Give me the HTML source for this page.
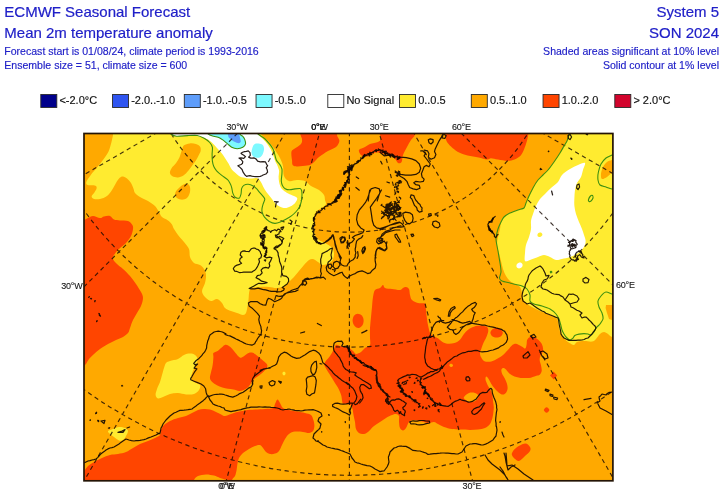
<!DOCTYPE html>
<html lang="en"><head><meta charset="utf-8"><title>ECMWF Seasonal Forecast</title>
<style>html,body{margin:0;padding:0;background:#fff}body{width:725px;height:495px;overflow:hidden}svg{display:block;position:absolute;left:0;top:0}text{font-family:"Liberation Sans",Arial,Helvetica,sans-serif}.t1{font-size:15px;fill:#2020c8;stroke:#2020c8;stroke-width:0.2px}.t2{font-size:10.56px;fill:#2020c8;stroke:#2020c8;stroke-width:0.15px}.lg{font-size:11px;fill:#111;stroke:#111;stroke-width:0.15px}.ax{font-size:9px;fill:#1a1a1a;stroke:#1a1a1a;stroke-width:0.12px;letter-spacing:-0.2px}.grid{fill:none;stroke:#140800;stroke-opacity:.8;stroke-width:1.15;stroke-dasharray:4.3 3.6}.coast{fill:none;stroke:#100500;stroke-opacity:.9;stroke-width:1.2;stroke-linejoin:round;stroke-linecap:round}.sig{fill:none;stroke:#3f9010;stroke-width:1.1;stroke-linejoin:round}</style></head><body>
<svg width="725" height="495" viewBox="0 0 725 495">
<rect width="725" height="495" fill="#fff"/>
<text class="t1" x="4.3" y="16.8">ECMWF Seasonal Forecast</text>
<text class="t1" x="4.3" y="38">Mean 2m temperature anomaly</text>
<text class="t2" x="4.3" y="55">Forecast start is 01/08/24, climate period is 1993-2016</text>
<text class="t2" x="4.3" y="69">Ensemble size = 51, climate size = 600</text>
<text class="t1" x="719" y="16.7" text-anchor="end">System 5</text>
<text class="t1" x="719" y="37.9" text-anchor="end">SON 2024</text>
<text class="t2" x="719" y="55" text-anchor="end">Shaded areas significant at 10% level</text>
<text class="t2" x="719" y="69" text-anchor="end">Solid contour at 1% level</text>
<rect x="40.80" y="94.5" width="16" height="13" fill="#00008b" stroke="#2a2a2a" stroke-width="0.9"/>
<text class="lg" x="59.40" y="104.2">&lt;-2.0°C</text>
<rect x="112.55" y="94.5" width="16" height="13" fill="#2f55f0" stroke="#2a2a2a" stroke-width="0.9"/>
<text class="lg" x="131.15" y="104.2">-2.0..-1.0</text>
<rect x="184.30" y="94.5" width="16" height="13" fill="#5e9dfa" stroke="#2a2a2a" stroke-width="0.9"/>
<text class="lg" x="202.90" y="104.2">-1.0..-0.5</text>
<rect x="256.05" y="94.5" width="16" height="13" fill="#7df9ff" stroke="#2a2a2a" stroke-width="0.9"/>
<text class="lg" x="274.65" y="104.2">-0.5..0</text>
<rect x="327.80" y="94.5" width="16" height="13" fill="#ffffff" stroke="#2a2a2a" stroke-width="0.9"/>
<text class="lg" x="346.40" y="104.2">No Signal</text>
<rect x="399.55" y="94.5" width="16" height="13" fill="#ffeb30" stroke="#2a2a2a" stroke-width="0.9"/>
<text class="lg" x="418.15" y="104.2">0..0.5</text>
<rect x="471.30" y="94.5" width="16" height="13" fill="#ffa900" stroke="#2a2a2a" stroke-width="0.9"/>
<text class="lg" x="489.90" y="104.2">0.5..1.0</text>
<rect x="543.05" y="94.5" width="16" height="13" fill="#ff4500" stroke="#2a2a2a" stroke-width="0.9"/>
<text class="lg" x="561.65" y="104.2">1.0..2.0</text>
<rect x="614.80" y="94.5" width="16" height="13" fill="#d2042d" stroke="#2a2a2a" stroke-width="0.9"/>
<text class="lg" x="633.40" y="104.2">&gt; 2.0°C</text>
<defs><clipPath id="mc"><rect x="84" y="133.5" width="528.9" height="347.3"/></clipPath></defs>
<g clip-path="url(#mc)">
<rect x="84" y="133.5" width="528.9" height="347.3" fill="#ffa900"/>
<path d="M113.0,125.0 C137.7,123.5 236.3,123.5 261.0,125.0 C285.7,126.5 259.7,131.2 261.0,134.0 C262.3,136.8 266.7,139.3 269.0,142.0 C271.3,144.7 273.2,147.3 275.0,150.0 C276.8,152.7 278.7,155.3 280.0,158.0 C281.3,160.7 282.3,163.0 283.0,166.0 C283.7,169.0 283.0,173.5 284.0,176.0 C285.0,178.5 286.8,180.3 289.0,181.0 C291.2,181.7 294.3,180.0 297.0,180.0 C299.7,180.0 302.7,180.0 305.0,181.0 C307.3,182.0 308.7,184.5 311.0,186.0 C313.3,187.5 316.8,188.5 319.0,190.0 C321.2,191.5 323.0,193.3 324.0,195.0 C325.0,196.7 324.7,198.5 325.0,200.0 C325.3,201.5 326.3,202.8 326.0,204.0 C325.7,205.2 324.5,205.8 323.0,207.0 C321.5,208.2 318.3,209.8 317.0,211.0 C315.7,212.2 315.5,212.5 315.0,214.0 C314.5,215.5 314.2,217.5 314.0,220.0 C313.8,222.5 313.8,226.5 314.0,229.0 C314.2,231.5 314.2,233.2 315.0,235.0 C315.8,236.8 317.3,238.7 319.0,240.0 C320.7,241.3 323.2,242.0 325.0,243.0 C326.8,244.0 328.7,245.0 330.0,246.0 C331.3,247.0 332.3,247.5 333.0,249.0 C333.7,250.5 334.2,253.0 334.0,255.0 C333.8,257.0 333.2,259.5 332.0,261.0 C330.8,262.5 328.7,263.3 327.0,264.0 C325.3,264.7 323.5,265.3 322.0,265.0 C320.5,264.7 319.5,263.0 318.0,262.0 C316.5,261.0 314.5,259.3 313.0,259.0 C311.5,258.7 310.5,259.0 309.0,260.0 C307.5,261.0 305.7,263.2 304.0,265.0 C302.3,266.8 300.7,269.0 299.0,271.0 C297.3,273.0 295.7,275.2 294.0,277.0 C292.3,278.8 290.5,280.5 289.0,282.0 C287.5,283.5 287.0,285.0 285.0,286.0 C283.0,287.0 279.7,287.8 277.0,288.0 C274.3,288.2 272.0,287.2 269.0,287.0 C266.0,286.8 261.8,286.8 259.0,287.0 C256.2,287.2 253.6,287.3 252.0,288.0 C250.4,288.7 250.0,289.2 249.4,291.0 C248.8,292.8 248.9,296.3 248.6,299.0 C248.3,301.7 247.8,304.7 247.4,307.0 C247.0,309.3 246.7,311.7 246.0,313.0 C245.3,314.3 244.5,315.0 243.0,315.0 C241.5,315.0 239.0,313.7 237.0,313.0 C235.0,312.3 233.0,311.8 231.0,311.0 C229.0,310.2 226.5,309.3 225.0,308.0 C223.5,306.7 223.3,304.5 222.0,303.0 C220.7,301.5 218.8,299.3 217.0,299.0 C215.2,298.7 213.0,301.3 211.0,301.0 C209.0,300.7 206.5,298.7 205.0,297.0 C203.5,295.3 202.0,293.3 202.0,291.0 C202.0,288.7 204.3,285.7 205.0,283.0 C205.7,280.3 206.2,277.3 206.0,275.0 C205.8,272.7 205.0,270.7 204.0,269.0 C203.0,267.3 201.7,266.0 200.0,265.0 C198.3,264.0 195.7,264.3 194.0,263.0 C192.3,261.7 190.8,259.3 190.0,257.0 C189.2,254.7 190.0,251.5 189.0,249.0 C188.0,246.5 185.8,244.3 184.0,242.0 C182.2,239.7 179.7,237.2 178.0,235.0 C176.3,232.8 175.1,230.8 174.0,229.0 C172.9,227.2 172.6,225.4 171.6,224.0 C170.6,222.6 169.6,221.6 168.0,220.4 C166.4,219.2 163.5,218.4 162.0,217.0 C160.5,215.6 160.2,213.8 159.0,212.0 C157.8,210.2 156.8,207.8 155.0,206.0 C153.2,204.2 150.5,202.5 148.0,201.0 C145.5,199.5 142.2,198.3 140.0,197.0 C137.8,195.7 136.1,194.3 135.0,193.0 C133.9,191.7 134.3,190.7 133.6,189.0 C132.9,187.3 132.1,184.8 131.0,183.0 C129.9,181.2 128.3,179.5 127.0,178.4 C125.7,177.3 124.2,176.5 123.0,176.4 C121.8,176.3 121.2,176.5 120.0,177.6 C118.8,178.7 117.3,180.9 116.0,183.0 C114.7,185.1 113.5,187.8 112.0,190.0 C110.5,192.2 109.0,194.5 107.0,196.0 C105.0,197.5 102.2,198.5 100.0,199.0 C97.8,199.5 95.4,199.4 94.0,199.0 C92.6,198.6 91.5,197.5 91.6,196.4 C91.7,195.3 93.6,193.6 94.4,192.4 C95.2,191.2 96.1,190.0 96.4,189.0 C96.7,188.0 96.8,187.2 96.4,186.6 C96.0,186.0 95.0,185.5 93.8,185.3 C92.6,185.1 90.7,185.4 89.5,185.3 C88.3,185.2 87.1,185.2 86.6,184.6 C86.1,184.0 86.0,182.9 86.4,181.7 C86.8,180.5 88.0,179.1 89.0,177.6 C90.0,176.1 91.1,174.4 92.4,172.8 C93.7,171.2 95.2,169.5 96.6,167.9 C98.0,166.3 99.3,164.8 100.7,163.1 C102.1,161.4 103.5,159.4 104.8,157.6 C106.1,155.8 107.3,154.2 108.3,152.1 C109.3,150.0 110.0,147.3 110.6,145.2 C111.2,143.1 111.6,141.5 112.0,139.7 C112.4,137.8 112.9,136.5 113.1,134.1 C113.3,131.7 88.3,126.5 113.0,125.0Z" fill="#ffeb30"/>
<path d="M184.1,145.2 C185.2,144.5 187.7,143.6 189.7,143.4 C191.7,143.2 194.2,143.4 195.9,143.9 C197.6,144.4 199.2,145.4 200.0,146.6 C200.8,147.8 200.9,149.3 200.7,150.8 C200.5,152.3 199.4,154.0 198.6,155.6 C197.8,157.2 196.9,158.8 195.9,160.4 C194.9,162.0 193.7,163.5 192.4,165.2 C191.1,166.9 189.8,169.1 188.3,170.8 C186.8,172.5 185.1,174.5 183.4,175.6 C181.7,176.7 179.7,177.3 177.9,177.4 C176.1,177.5 173.7,177.1 172.4,176.3 C171.1,175.5 170.0,174.2 169.9,172.8 C169.8,171.4 170.7,169.6 171.7,168.0 C172.7,166.4 174.6,164.9 175.9,163.2 C177.2,161.5 178.4,159.7 179.3,157.7 C180.2,155.7 180.8,153.1 181.4,151.4 C182.0,149.7 182.4,148.3 182.8,147.3 C183.2,146.3 182.9,145.8 184.1,145.2Z" fill="#ffa900"/>
<path d="M180.0,187.0 C181.7,185.6 184.4,183.8 186.0,183.6 C187.6,183.4 188.9,184.6 189.6,186.0 C190.3,187.4 190.4,190.0 190.0,192.0 C189.6,194.0 188.5,196.7 187.0,198.0 C185.5,199.3 182.8,199.8 181.0,199.6 C179.2,199.4 176.9,198.3 176.0,197.0 C175.1,195.7 174.9,193.7 175.6,192.0 C176.3,190.3 178.3,188.4 180.0,187.0Z" fill="#ffa900"/>
<path d="M165.0,125.0 C150.8,126.5 169.1,132.1 171.0,134.0 C172.9,135.9 173.8,136.0 176.6,136.3 C179.4,136.6 183.9,135.6 187.6,135.6 C191.3,135.6 195.6,135.9 198.6,136.3 C201.6,136.8 203.4,137.4 205.5,138.3 C207.6,139.2 209.4,140.5 211.0,141.8 C212.6,143.1 213.6,144.2 215.2,145.9 C216.8,147.6 219.1,150.1 220.7,152.1 C222.3,154.1 223.5,155.8 224.8,157.7 C226.1,159.6 227.4,161.6 228.5,163.5 C229.6,165.4 230.5,167.6 231.5,169.0 C232.5,170.4 233.0,170.8 234.4,172.1 C235.8,173.4 237.9,175.6 239.9,176.6 C241.9,177.6 244.6,177.9 246.6,178.2 C248.6,178.5 250.2,178.4 252.0,178.4 C253.8,178.4 256.1,177.7 257.6,178.3 C259.1,178.9 260.0,180.7 260.9,182.1 C261.8,183.5 262.2,184.8 263.1,186.5 C264.0,188.2 265.1,190.2 266.4,192.0 C267.7,193.8 269.5,195.8 270.8,197.5 C272.1,199.2 273.0,200.6 274.1,201.9 C275.2,203.2 276.1,204.3 277.4,205.2 C278.7,206.1 280.4,206.9 281.9,207.4 C283.4,207.9 284.8,208.2 286.3,208.0 C287.8,207.8 289.2,207.1 290.7,206.3 C292.2,205.5 294.0,204.3 295.1,203.0 C296.2,201.7 297.3,199.7 297.3,198.6 C297.3,197.5 296.4,197.1 295.1,196.4 C293.8,195.7 291.4,195.1 289.6,194.2 C287.8,193.3 285.6,192.0 284.1,190.9 C282.6,189.8 281.6,189.1 280.8,187.6 C280.0,186.1 279.5,183.9 279.1,182.1 C278.7,180.3 278.6,178.4 278.6,176.6 C278.6,174.8 279.3,172.8 279.1,171.0 C278.9,169.2 278.0,167.2 277.4,165.5 C276.8,163.8 276.1,163.3 275.2,161.1 C274.3,158.8 273.2,154.7 272.0,152.0 C270.8,149.3 269.5,147.2 268.0,145.0 C266.5,142.8 264.7,140.8 263.0,139.0 C261.3,137.2 259.2,136.3 258.0,134.0 C256.8,131.7 271.5,126.5 256.0,125.0 C240.5,123.5 179.2,123.5 165.0,125.0Z" fill="#ffffff"/>
<path d="M205.0,125.0 C199.7,126.5 206.8,132.3 208.3,134.2 C209.8,136.1 212.0,135.7 213.8,136.3 C215.6,136.9 217.7,137.0 219.3,137.7 C220.9,138.4 222.0,139.4 223.4,140.4 C224.8,141.4 226.2,142.8 227.6,143.9 C229.0,145.1 230.1,146.5 231.7,147.3 C233.3,148.1 235.3,148.7 237.2,148.7 C239.0,148.7 241.4,148.1 242.8,147.3 C244.2,146.5 245.2,145.2 245.5,143.9 C245.8,142.6 245.2,141.0 244.8,139.7 C244.4,138.4 243.6,137.2 242.8,136.3 C242.0,135.4 240.5,136.1 240.0,134.2 C239.5,132.3 245.8,126.5 240.0,125.0 C234.2,123.5 210.3,123.5 205.0,125.0Z" fill="#7df9ff"/>
<path d="M228.3,130.0 C229.8,128.9 235.2,128.7 237.2,130.0 C239.1,131.3 239.4,135.7 240.0,137.7 C240.6,139.7 240.9,140.9 240.7,141.8 C240.5,142.7 239.6,143.2 238.6,143.2 C237.6,143.2 235.9,142.5 234.5,141.8 C233.1,141.1 231.3,139.9 230.3,139.0 C229.3,138.1 228.6,137.8 228.3,136.3 C228.0,134.8 226.8,131.1 228.3,130.0Z" fill="#5e9dfa"/>
<path d="M255.2,143.8 C256.8,143.2 260.3,143.6 261.8,144.3 C263.3,145.0 263.8,146.6 264.0,148.2 C264.2,149.8 263.6,152.1 262.9,153.7 C262.2,155.3 261.1,157.0 259.6,157.6 C258.1,158.2 255.4,157.7 254.1,157.0 C252.8,156.3 251.9,154.8 251.6,153.2 C251.3,151.6 251.8,149.3 252.4,147.7 C253.0,146.1 253.6,144.4 255.2,143.8Z" fill="#7df9ff"/>
<path d="M170.0,361.0 C172.0,360.3 175.7,360.0 178.0,359.0 C180.3,358.0 182.0,355.9 184.0,355.0 C186.0,354.1 188.2,353.6 190.0,353.6 C191.8,353.6 193.7,354.1 195.0,355.0 C196.3,355.9 197.4,357.3 197.6,359.0 C197.8,360.7 196.8,363.0 196.0,365.0 C195.2,367.0 193.8,368.8 193.0,371.0 C192.2,373.2 190.8,376.2 191.0,378.0 C191.2,379.8 192.5,380.8 194.0,382.0 C195.5,383.2 199.2,383.7 200.0,385.0 C200.8,386.3 200.0,388.5 199.0,390.0 C198.0,391.5 196.2,393.3 194.0,394.0 C191.8,394.7 188.7,394.6 186.0,394.4 C183.3,394.2 180.7,393.1 178.0,393.0 C175.3,392.9 172.5,393.3 170.0,394.0 C167.5,394.7 165.0,396.3 163.0,397.0 C161.0,397.7 159.2,398.7 158.0,398.4 C156.8,398.1 155.8,396.6 155.6,395.0 C155.4,393.4 156.3,391.2 157.0,389.0 C157.7,386.8 159.2,384.3 160.0,382.0 C160.8,379.7 161.3,377.3 162.0,375.0 C162.7,372.7 163.3,370.0 164.0,368.0 C164.7,366.0 165.0,364.2 166.0,363.0 C167.0,361.8 168.0,361.7 170.0,361.0Z" fill="#ffeb30"/>
<path d="M108.0,431.0 C108.5,430.2 111.2,429.7 113.0,429.0 C114.8,428.3 117.0,427.2 119.0,427.0 C121.0,426.8 123.5,427.3 125.0,428.0 C126.5,428.7 127.8,429.7 128.0,431.0 C128.2,432.3 126.8,434.5 126.0,436.0 C125.2,437.5 124.2,439.3 123.0,440.0 C121.8,440.7 120.5,440.9 119.0,440.4 C117.5,439.9 115.5,438.1 114.0,437.0 C112.5,435.9 111.0,435.0 110.0,434.0 C109.0,433.0 107.5,431.8 108.0,431.0Z" fill="#ffeb30"/>
<path d="M283.0,372.0 C283.4,371.7 284.6,371.7 285.0,372.0 C285.4,372.3 285.7,373.4 285.5,374.0 C285.3,374.6 284.5,375.5 284.0,375.5 C283.5,375.5 282.7,374.6 282.5,374.0 C282.3,373.4 282.6,372.3 283.0,372.0Z" fill="#ffeb30"/>
<path d="M569.0,125.0 C560.2,126.5 569.3,131.3 569.0,134.0 C568.7,136.7 567.8,139.0 567.0,141.0 C566.2,143.0 565.2,144.0 564.0,146.0 C562.8,148.0 561.7,150.3 560.0,153.0 C558.3,155.7 556.0,159.2 554.0,162.0 C552.0,164.8 549.8,167.8 548.0,170.0 C546.2,172.2 544.7,173.3 543.0,175.0 C541.3,176.7 539.7,177.8 538.0,180.0 C536.3,182.2 534.5,185.3 533.0,188.0 C531.5,190.7 530.2,193.5 529.0,196.0 C527.8,198.5 526.8,201.0 526.0,203.0 C525.2,205.0 525.3,206.8 524.0,208.0 C522.7,209.2 520.3,209.2 518.0,210.0 C515.7,210.8 512.3,211.8 510.0,213.0 C507.7,214.2 505.5,215.5 504.0,217.0 C502.5,218.5 501.7,220.0 501.0,222.0 C500.3,224.0 500.5,226.5 500.0,229.0 C499.5,231.5 498.5,234.3 498.0,237.0 C497.5,239.7 496.8,242.3 497.0,245.0 C497.2,247.7 498.3,250.3 499.0,253.0 C499.7,255.7 500.3,258.3 501.0,261.0 C501.7,263.7 502.2,266.5 503.0,269.0 C503.8,271.5 504.8,274.0 506.0,276.0 C507.2,278.0 508.5,279.7 510.0,281.0 C511.5,282.3 513.3,283.0 515.0,284.0 C516.7,285.0 518.8,285.5 520.0,287.0 C521.2,288.5 521.5,291.0 522.0,293.0 C522.5,295.0 522.3,297.3 523.0,299.0 C523.7,300.7 524.5,301.7 526.0,303.0 C527.5,304.3 529.7,305.7 532.0,307.0 C534.3,308.3 537.3,309.8 540.0,311.0 C542.7,312.2 545.7,313.0 548.0,314.0 C550.3,315.0 552.4,316.0 554.0,317.0 C555.6,318.0 556.9,318.6 557.6,320.0 C558.4,321.4 558.1,323.4 558.5,325.2 C558.9,327.0 559.1,328.9 559.7,330.7 C560.4,332.5 561.4,334.6 562.4,336.2 C563.4,337.8 564.6,339.1 565.9,340.3 C567.2,341.5 568.6,342.5 570.0,343.3 C571.4,344.1 572.8,345.2 574.0,345.0 C575.2,344.8 575.3,342.7 577.0,342.0 C578.7,341.3 581.5,341.1 584.0,341.0 C586.5,340.9 590.0,341.9 592.0,341.6 C594.0,341.3 594.7,340.3 596.0,339.0 C597.3,337.7 598.7,335.2 600.0,334.0 C601.3,332.8 602.7,332.0 604.0,332.0 C605.3,332.0 606.7,333.2 608.0,334.0 C609.3,334.8 609.7,336.0 612.0,337.0 C614.3,338.0 620.3,375.3 622.0,340.0 C623.7,304.7 630.8,160.8 622.0,125.0 C613.2,89.2 577.8,123.5 569.0,125.0Z" fill="#ffeb30"/>
<path d="M585.0,163.0 C585.8,163.8 583.7,167.7 583.0,170.0 C582.3,172.3 582.0,174.8 581.0,177.0 C580.0,179.2 578.0,180.8 577.0,183.0 C576.0,185.2 575.4,187.5 575.0,190.0 C574.6,192.5 574.5,195.3 574.4,198.0 C574.3,200.7 574.1,203.3 574.4,206.0 C574.7,208.7 575.2,211.3 576.0,214.0 C576.8,216.7 578.0,219.5 579.0,222.0 C580.0,224.5 581.2,226.8 582.0,229.0 C582.8,231.2 583.4,233.0 584.0,235.0 C584.6,237.0 585.6,239.0 585.6,241.0 C585.6,243.0 585.3,245.0 584.0,247.0 C582.7,249.0 580.3,251.3 578.0,253.0 C575.7,254.7 572.7,256.0 570.0,257.0 C567.3,258.0 564.3,258.5 562.0,259.0 C559.7,259.5 558.0,260.3 556.0,260.0 C554.0,259.7 552.0,257.8 550.0,257.0 C548.0,256.2 546.0,255.0 544.0,255.0 C542.0,255.0 540.3,256.2 538.0,257.0 C535.7,257.8 532.2,259.3 530.0,260.0 C527.8,260.7 525.8,262.2 525.0,261.0 C524.2,259.8 524.8,255.7 525.0,253.0 C525.2,250.3 525.3,247.7 526.0,245.0 C526.7,242.3 528.2,239.7 529.0,237.0 C529.8,234.3 530.7,231.7 531.0,229.0 C531.3,226.3 530.7,223.5 531.0,221.0 C531.3,218.5 532.2,216.5 533.0,214.0 C533.8,211.5 534.8,208.5 536.0,206.0 C537.2,203.5 538.5,201.0 540.0,199.0 C541.5,197.0 543.2,195.8 545.0,194.0 C546.8,192.2 548.8,190.0 551.0,188.0 C553.2,186.0 556.2,184.2 558.0,182.0 C559.8,179.8 560.0,177.2 562.0,175.0 C564.0,172.8 567.3,170.7 570.0,169.0 C572.7,167.3 575.5,166.0 578.0,165.0 C580.5,164.0 584.2,162.2 585.0,163.0Z" fill="#ffffff"/>
<path d="M517.0,264.0 C517.6,263.3 519.1,262.6 520.0,262.6 C520.9,262.6 522.1,263.3 522.4,264.0 C522.7,264.7 522.6,266.3 522.0,267.0 C521.4,267.7 519.9,268.4 519.0,268.4 C518.1,268.4 516.9,267.7 516.6,267.0 C516.3,266.3 516.4,264.7 517.0,264.0Z" fill="#ffffff"/>
<path d="M538.0,233.4 C538.6,232.8 540.3,232.3 541.0,232.6 C541.7,232.9 542.6,234.3 542.4,235.0 C542.2,235.7 540.8,236.8 540.0,237.0 C539.2,237.2 537.9,236.6 537.6,236.0 C537.3,235.4 537.4,234.0 538.0,233.4Z" fill="#ffeb30"/>
<path d="M620.0,158.0 C618.7,156.3 614.2,159.3 612.0,160.0 C609.8,160.7 608.5,160.8 607.0,162.0 C605.5,163.2 604.0,165.0 603.0,167.0 C602.0,169.0 601.2,172.0 601.0,174.0 C600.8,176.0 601.0,178.5 602.0,179.0 C603.0,179.5 605.3,178.0 607.0,177.0 C608.7,176.0 609.8,174.2 612.0,173.0 C614.2,171.8 618.7,172.5 620.0,170.0 C621.3,167.5 621.3,159.7 620.0,158.0Z" fill="#ffa900"/>
<path d="M606.0,305.0 L620.0,305.0 L620.0,320.0 L612.0,320.0 L609.0,319.0 L607.0,313.0 L605.6,308.0Z" fill="#ffa900"/>
<path d="M76.0,221.0 C77.3,195.7 82.0,220.5 84.0,220.0 C86.0,219.5 86.5,218.7 88.0,218.0 C89.5,217.3 91.0,216.0 93.0,216.0 C95.0,216.0 98.2,217.9 100.0,218.0 C101.8,218.1 102.3,216.7 104.0,216.4 C105.7,216.1 108.3,215.5 110.0,216.0 C111.7,216.5 112.3,218.9 114.0,219.6 C115.7,220.3 117.7,220.2 120.0,220.4 C122.3,220.6 125.9,220.2 128.0,221.0 C130.1,221.8 131.6,223.7 132.4,225.0 C133.2,226.3 133.2,227.2 133.0,229.0 C132.8,230.8 132.2,233.7 131.0,236.0 C129.8,238.3 128.0,240.8 126.0,243.0 C124.0,245.2 121.0,247.0 119.0,249.0 C117.0,251.0 115.0,253.3 114.0,255.0 C113.0,256.7 112.5,257.5 113.0,259.0 C113.5,260.5 115.3,262.3 117.0,264.0 C118.7,265.7 120.8,267.0 123.0,269.0 C125.2,271.0 127.8,273.5 130.0,276.0 C132.2,278.5 134.2,281.3 136.0,284.0 C137.8,286.7 139.8,289.7 141.0,292.0 C142.2,294.3 143.0,295.7 143.0,298.0 C143.0,300.3 142.0,303.5 141.0,306.0 C140.0,308.5 138.3,310.7 137.0,313.0 C135.7,315.3 134.2,317.5 133.0,320.0 C131.8,322.5 130.8,325.8 130.0,328.0 C129.2,330.2 129.2,331.5 128.0,333.0 C126.8,334.5 125.0,335.8 123.0,337.0 C121.0,338.2 118.5,338.8 116.0,340.0 C113.5,341.2 110.7,342.5 108.0,344.0 C105.3,345.5 102.3,347.3 100.0,349.0 C97.7,350.7 95.8,352.3 94.0,354.0 C92.2,355.7 90.5,357.2 89.0,359.0 C87.5,360.8 87.2,362.8 85.0,365.0 C82.8,367.2 77.5,396.0 76.0,372.0 C74.5,348.0 74.7,246.3 76.0,221.0Z" fill="#ff4500"/>
<path d="M76.0,478.0 C77.3,474.8 82.0,473.0 84.0,471.0 C86.0,469.0 86.3,467.5 88.0,466.0 C89.7,464.5 91.7,463.3 94.0,462.0 C96.3,460.7 99.3,459.2 102.0,458.0 C104.7,456.8 107.3,455.7 110.0,455.0 C112.7,454.3 115.3,454.5 118.0,454.0 C120.7,453.5 123.5,453.0 126.0,452.0 C128.5,451.0 130.7,449.3 133.0,448.0 C135.3,446.7 137.5,445.2 140.0,444.0 C142.5,442.8 145.5,442.0 148.0,441.0 C150.5,440.0 153.0,439.0 155.0,438.0 C157.0,437.0 159.0,436.3 160.0,435.0 C161.0,433.7 160.3,431.7 161.0,430.0 C161.7,428.3 162.5,426.5 164.0,425.0 C165.5,423.5 167.7,422.2 170.0,421.0 C172.3,419.8 175.3,418.8 178.0,418.0 C180.7,417.2 183.7,416.8 186.0,416.0 C188.3,415.2 190.0,414.0 192.0,413.0 C194.0,412.0 196.0,410.7 198.0,410.0 C200.0,409.3 202.0,409.1 204.0,409.0 C206.0,408.9 208.0,409.1 210.0,409.6 C212.0,410.1 214.0,411.1 216.0,412.0 C218.0,412.9 220.5,414.3 222.0,415.0 C223.5,415.7 223.5,416.2 225.0,416.0 C226.5,415.8 229.0,414.7 231.0,414.0 C233.0,413.3 234.7,412.6 237.0,412.0 C239.3,411.4 242.0,410.8 245.0,410.4 C248.0,410.0 251.7,409.8 255.0,409.6 C258.3,409.4 262.0,409.3 265.0,409.0 C268.0,408.7 271.3,408.8 273.0,408.0 C274.7,407.2 274.3,405.4 275.0,404.0 C275.7,402.6 276.6,399.8 277.4,399.6 C278.2,399.4 279.1,401.6 280.0,403.0 C280.9,404.4 281.5,406.8 283.0,408.0 C284.5,409.2 286.7,409.4 289.0,410.0 C291.3,410.6 294.3,411.1 297.0,411.6 C299.7,412.1 302.7,412.4 305.0,413.0 C307.3,413.6 309.6,413.8 311.0,415.0 C312.4,416.2 312.8,418.2 313.4,420.0 C314.0,421.8 314.5,424.2 314.4,426.0 C314.3,427.8 313.9,429.8 313.0,431.0 C312.1,432.2 310.7,432.8 309.0,433.0 C307.3,433.2 305.3,432.2 303.0,432.0 C300.7,431.8 297.3,431.3 295.0,431.6 C292.7,431.9 290.7,432.8 289.0,434.0 C287.3,435.2 286.2,437.2 285.0,439.0 C283.8,440.8 283.0,443.0 282.0,445.0 C281.0,447.0 280.2,449.6 279.0,451.0 C277.8,452.4 276.5,453.1 275.0,453.6 C273.5,454.1 271.5,454.3 270.0,454.0 C268.5,453.7 267.2,453.0 266.0,452.0 C264.8,451.0 264.0,449.2 263.0,448.0 C262.0,446.8 261.3,445.3 260.0,445.0 C258.7,444.7 256.8,445.3 255.0,446.0 C253.2,446.7 251.0,447.8 249.0,449.0 C247.0,450.2 244.7,451.5 243.0,453.0 C241.3,454.5 239.9,456.2 239.0,458.0 C238.1,459.8 237.8,462.0 237.4,464.0 C237.0,466.0 237.0,468.0 236.6,470.0 C236.2,472.0 235.8,474.3 235.0,476.0 C234.2,477.7 232.8,477.7 232.0,480.0 C231.2,482.3 256.0,488.3 230.0,490.0 C204.0,491.7 101.7,492.0 76.0,490.0 C50.3,488.0 74.7,481.2 76.0,478.0Z" fill="#ff4500"/>
<path d="M190.0,490.0 C183.7,488.3 192.7,482.3 194.0,480.0 C195.3,477.7 196.0,476.9 198.0,476.0 C200.0,475.1 203.3,474.5 206.0,474.4 C208.7,474.3 211.7,475.0 214.0,475.6 C216.3,476.2 218.2,477.4 220.0,478.0 C221.8,478.6 223.5,479.0 225.0,479.5 C226.5,480.0 227.8,479.2 229.0,481.0 C230.2,482.8 238.5,488.5 232.0,490.0 C225.5,491.5 196.3,491.7 190.0,490.0Z" fill="#ffa900"/>
<path d="M213.4,352.9 C214.1,351.9 216.2,351.8 217.6,350.9 C219.0,350.0 220.4,348.4 221.7,347.4 C223.0,346.4 224.0,345.0 225.2,344.7 C226.3,344.4 227.4,345.1 228.6,345.8 C229.8,346.5 230.9,347.6 232.1,348.8 C233.2,350.0 234.3,351.6 235.5,352.9 C236.7,354.2 238.1,356.0 239.0,356.8 C239.9,357.6 240.1,358.0 241.0,357.8 C241.9,357.6 243.2,356.5 244.5,355.7 C245.8,354.9 247.2,353.4 248.6,352.9 C250.0,352.4 251.5,352.3 252.8,352.7 C254.1,353.1 255.0,354.1 256.2,355.0 C257.3,355.9 258.4,356.8 259.7,357.8 C261.0,358.8 262.6,360.1 263.8,361.2 C265.1,362.3 266.7,363.5 267.2,364.7 C267.7,365.9 267.2,367.0 266.6,368.1 C266.0,369.2 265.0,370.5 263.8,371.6 C262.6,372.8 261.1,374.0 259.7,375.0 C258.3,376.0 256.8,376.8 255.5,377.8 C254.2,378.8 253.0,380.1 252.1,381.2 C251.2,382.3 250.8,383.5 250.0,384.7 C249.2,385.9 248.3,387.2 247.2,388.1 C246.0,389.0 244.5,389.7 243.1,390.2 C241.7,390.7 240.6,391.0 239.0,390.9 C237.4,390.8 235.2,389.9 233.4,389.5 C231.6,389.1 229.7,389.2 227.9,388.8 C226.1,388.4 224.2,388.0 222.4,387.4 C220.6,386.8 218.5,386.1 216.9,385.3 C215.3,384.5 214.0,383.8 212.8,382.6 C211.7,381.5 210.3,379.9 210.0,378.4 C209.7,376.9 210.3,375.3 210.7,373.6 C211.0,371.9 211.7,369.9 212.1,368.1 C212.5,366.3 212.8,364.4 213.0,362.6 C213.2,360.8 213.3,358.7 213.4,357.1 C213.5,355.5 212.7,353.9 213.4,352.9Z" fill="#ff4500"/>
<path d="M300.0,126.0 C306.1,124.5 330.8,124.5 337.0,126.0 C343.2,127.5 336.6,132.5 337.0,135.0 C337.4,137.5 339.6,139.0 339.4,141.0 C339.2,143.0 337.9,145.3 336.0,147.0 C334.1,148.7 330.8,149.3 328.0,151.0 C325.2,152.7 321.5,155.0 319.0,157.0 C316.5,159.0 315.0,161.6 313.0,163.0 C311.0,164.4 310.2,165.1 307.0,165.6 C303.8,166.1 296.5,166.9 294.0,166.0 C291.5,165.1 292.4,162.3 292.0,160.0 C291.6,157.7 291.1,153.8 291.4,152.0 C291.7,150.2 292.4,150.3 294.0,149.0 C295.6,147.7 299.7,145.7 301.0,144.0 C302.3,142.3 302.1,140.5 302.0,139.0 C301.9,137.5 300.9,137.2 300.6,135.0 C300.3,132.8 293.9,127.5 300.0,126.0Z" fill="#ff4500"/>
<path d="M359.0,150.0 C359.7,148.7 363.2,148.0 365.0,147.0 C366.8,146.0 367.8,144.8 370.0,144.0 C372.2,143.2 376.2,143.0 378.0,142.0 C379.8,141.0 380.7,140.8 381.0,138.0 C381.3,135.2 374.3,127.2 380.0,125.0 C385.7,122.8 409.2,123.4 415.0,125.0 C420.8,126.6 415.7,131.9 415.0,134.4 C414.3,136.9 412.3,137.9 411.0,140.0 C409.7,142.1 408.3,144.5 407.0,147.0 C405.7,149.5 403.9,152.5 403.0,155.0 C402.1,157.5 402.4,160.7 401.6,162.0 C400.8,163.3 399.2,163.7 398.0,163.0 C396.8,162.3 395.9,159.3 394.4,158.0 C392.9,156.7 391.1,155.7 389.0,155.0 C386.9,154.3 384.2,154.0 382.0,153.6 C379.8,153.2 378.0,152.2 376.0,152.4 C374.0,152.6 371.7,154.3 370.0,155.0 C368.3,155.7 367.5,156.5 366.0,156.5 C364.5,156.5 362.2,156.1 361.0,155.0 C359.8,153.9 358.3,151.3 359.0,150.0Z" fill="#ff4500"/>
<path d="M445.5,125.0 C431.7,126.5 445.3,131.3 445.5,134.0 C445.7,136.7 445.6,138.9 446.5,141.0 C447.4,143.1 449.1,144.7 451.0,146.5 C452.9,148.3 455.2,150.5 458.0,152.0 C460.8,153.5 464.2,154.6 467.6,155.5 C471.0,156.4 475.4,156.9 478.6,157.6 C481.8,158.3 484.9,159.5 487.0,159.6 C489.1,159.7 489.2,158.3 491.0,158.3 C492.8,158.3 495.2,159.2 498.0,159.6 C500.8,160.0 504.9,161.0 507.6,161.0 C510.4,161.0 512.3,160.5 514.5,159.6 C516.7,158.7 519.1,157.2 520.7,155.5 C522.3,153.8 523.1,151.7 524.1,149.3 C525.1,146.9 526.2,143.6 526.9,141.0 C527.6,138.4 528.1,136.7 528.3,134.0 C528.5,131.3 542.1,126.5 528.3,125.0 C514.5,123.5 459.3,123.5 445.5,125.0Z" fill="#ff4500"/>
<path d="M357.8,313.8 C359.1,313.8 360.8,314.5 361.8,315.5 C362.8,316.5 363.5,318.4 363.6,320.0 C363.7,321.6 363.4,323.7 362.6,325.0 C361.8,326.3 359.9,327.8 358.6,328.0 C357.3,328.2 355.6,327.2 354.6,326.0 C353.6,324.8 352.7,322.7 352.6,321.0 C352.5,319.3 353.1,317.0 354.0,315.8 C354.9,314.6 356.5,313.9 357.8,313.8Z" fill="#ff4500"/>
<path d="M370.0,345.0 C369.2,346.7 366.5,346.8 365.0,348.0 C363.5,349.2 362.5,351.0 361.0,352.0 C359.5,353.0 357.3,354.2 356.0,354.0 C354.7,353.8 354.2,352.0 353.0,351.0 C351.8,350.0 350.3,348.7 349.0,348.0 C347.7,347.3 346.5,347.3 345.0,347.0 C343.5,346.7 341.5,346.3 340.0,346.0 C338.5,345.7 337.1,344.3 336.0,345.0 C334.9,345.7 334.5,348.2 333.5,350.0 C332.5,351.8 331.3,354.1 330.0,356.0 C328.7,357.9 326.4,360.0 325.5,361.5 C324.6,363.0 324.1,363.7 324.3,365.0 C324.5,366.3 325.8,367.9 326.6,369.4 C327.4,370.9 328.4,372.3 329.3,373.8 C330.2,375.3 331.2,376.7 332.1,378.2 C333.0,379.7 333.9,381.2 334.8,382.7 C335.7,384.2 336.8,385.6 337.6,387.1 C338.4,388.6 339.2,390.0 339.8,391.5 C340.4,393.0 341.0,394.4 341.4,395.9 C341.8,397.4 341.7,399.0 342.0,400.3 C342.3,401.6 342.2,403.0 343.1,403.6 C344.0,404.2 346.2,403.9 347.5,404.2 C348.8,404.5 350.0,404.5 350.8,405.3 C351.6,406.1 352.1,407.5 352.5,409.1 C352.9,410.7 353.1,412.9 353.5,415.0 C353.9,417.1 354.6,419.7 355.0,422.0 C355.4,424.3 355.3,427.2 356.0,429.0 C356.7,430.8 357.7,432.2 359.0,433.0 C360.3,433.8 362.5,434.2 364.0,434.0 C365.5,433.8 367.0,432.7 368.0,432.0 C369.0,431.3 369.0,431.0 370.0,430.0 C371.0,429.0 372.3,427.3 374.0,426.0 C375.7,424.7 378.0,423.3 380.0,422.0 C382.0,420.7 384.0,419.2 386.0,418.0 C388.0,416.8 390.3,415.7 392.0,415.0 C393.7,414.3 394.8,413.8 396.0,414.0 C397.2,414.2 398.5,414.7 399.0,416.0 C399.5,417.3 398.8,420.0 399.0,422.0 C399.2,424.0 399.3,426.6 400.0,428.0 C400.7,429.4 402.0,430.4 403.0,430.4 C404.0,430.4 405.0,429.4 406.0,428.0 C407.0,426.6 407.8,423.3 409.0,422.0 C410.2,420.7 411.2,420.2 413.0,420.0 C414.8,419.8 417.5,420.5 420.0,421.0 C422.5,421.5 425.7,422.8 428.0,423.0 C430.3,423.2 432.3,421.8 434.0,422.0 C435.7,422.2 436.3,423.2 438.0,424.0 C439.7,424.8 441.7,426.2 444.0,427.0 C446.3,427.8 449.3,428.6 452.0,429.0 C454.7,429.4 457.0,429.4 460.0,429.6 C463.0,429.8 467.0,430.0 470.0,430.0 C473.0,430.0 475.5,429.9 478.0,429.6 C480.5,429.3 483.0,428.9 485.0,428.0 C487.0,427.1 488.8,425.7 490.0,424.0 C491.2,422.3 491.8,420.0 492.4,418.0 C493.0,416.0 493.2,413.9 493.4,412.0 C493.6,410.1 493.9,408.7 493.8,406.9 C493.8,405.1 493.3,403.2 493.1,401.4 C492.9,399.6 492.8,397.6 492.4,395.9 C492.0,394.2 491.6,392.4 491.0,391.0 C490.4,389.6 489.7,388.9 489.0,387.6 C488.3,386.3 487.5,384.8 486.9,383.4 C486.3,382.0 485.6,380.4 485.5,379.3 C485.4,378.2 485.7,376.7 486.2,376.6 C486.7,376.5 487.5,377.5 488.3,378.6 C489.1,379.7 490.0,381.8 491.0,383.4 C492.0,385.0 493.2,386.8 494.5,388.3 C495.8,389.8 497.2,391.4 498.6,392.4 C500.0,393.4 501.5,394.5 502.8,394.5 C504.1,394.5 505.4,393.4 506.2,392.4 C507.0,391.4 507.5,389.8 507.6,388.3 C507.7,386.8 507.4,385.0 506.9,383.4 C506.4,381.8 505.6,380.2 504.8,378.6 C504.0,377.0 502.7,375.3 502.1,373.8 C501.5,372.3 501.2,370.7 501.4,369.7 C501.6,368.7 502.6,368.0 503.4,368.0 C504.2,368.0 505.1,368.7 506.2,369.7 C507.2,370.7 508.3,372.6 509.7,373.8 C511.1,375.0 512.7,375.9 514.5,376.6 C516.3,377.3 518.3,377.7 520.7,377.9 C523.1,378.1 526.5,378.2 529.0,377.9 C531.5,377.6 534.1,376.4 535.9,375.9 C537.7,375.4 538.7,375.7 539.7,374.8 C540.7,373.9 541.5,372.3 541.7,370.7 C541.9,369.1 541.3,366.9 541.0,365.2 C540.7,363.5 539.8,361.8 539.7,360.3 C539.6,358.8 539.8,357.4 540.3,356.2 C540.8,354.9 541.9,354.1 542.4,352.8 C542.9,351.5 543.2,350.1 543.1,348.6 C543.0,347.1 542.5,345.3 541.7,343.8 C540.9,342.3 539.6,340.9 538.3,339.7 C537.0,338.5 535.5,337.4 534.1,336.9 C532.7,336.4 531.1,336.4 530.0,336.9 C528.9,337.4 527.8,338.4 527.2,339.7 C526.6,341.0 526.9,343.0 526.6,344.5 C526.3,346.0 526.0,348.2 525.2,348.6 C524.4,349.0 523.2,347.4 521.7,346.6 C520.2,345.8 517.8,344.0 516.2,343.8 C514.6,343.6 513.5,344.2 512.1,345.2 C510.7,346.2 509.5,348.3 507.9,350.0 C506.3,351.7 504.5,353.9 502.4,355.5 C500.3,357.1 497.6,358.7 495.5,359.7 C493.4,360.7 491.8,361.4 490.0,361.7 C488.2,362.0 486.3,361.9 485.0,361.5 C483.7,361.1 482.9,360.2 482.1,359.0 C481.3,357.8 480.1,355.8 480.0,354.1 C479.9,352.4 480.8,350.4 481.4,348.6 C482.0,346.8 482.6,344.9 483.4,343.1 C484.2,341.3 485.4,339.7 486.2,337.6 C487.0,335.5 488.3,332.5 488.3,330.7 C488.3,328.9 487.7,327.5 486.2,326.6 C484.7,325.7 481.6,325.3 479.3,325.4 C477.0,325.5 474.5,326.3 472.4,327.2 C470.3,328.1 468.4,329.4 466.9,330.7 C465.4,332.0 464.5,333.3 463.4,334.8 C462.2,336.3 461.5,338.3 460.0,339.7 C458.5,341.1 456.6,342.4 454.5,343.1 C452.4,343.8 449.7,344.0 447.6,343.8 C445.5,343.6 443.7,342.6 442.1,341.7 C440.5,340.8 439.3,339.2 437.9,338.3 C436.5,337.4 435.1,337.0 433.8,336.2 C432.5,335.4 431.2,335.0 430.3,333.4 C429.4,331.8 428.9,329.1 428.3,326.6 C427.7,324.1 427.3,321.1 426.9,318.3 C426.5,315.5 426.2,312.1 426.0,310.0 C425.8,307.9 425.8,307.1 425.6,306.0 C425.4,304.9 426.3,303.9 425.0,303.4 C423.7,302.9 420.2,303.6 418.0,303.0 C415.8,302.4 413.3,301.3 412.0,300.0 C410.7,298.7 410.5,296.8 410.0,295.0 C409.5,293.2 409.7,290.3 409.0,289.0 C408.3,287.7 407.0,287.2 406.0,287.0 C405.0,286.8 404.0,287.5 403.0,288.0 C402.0,288.5 401.8,289.8 400.0,290.0 C398.2,290.2 394.5,289.3 392.0,289.0 C389.5,288.7 386.5,288.7 385.0,288.0 C383.5,287.3 383.8,285.0 383.0,285.0 C382.2,285.0 381.3,287.2 380.0,288.0 C378.7,288.8 376.2,288.5 375.0,290.0 C373.8,291.5 373.5,294.2 373.0,297.0 C372.5,299.8 372.3,303.7 372.0,307.0 C371.7,310.3 371.3,313.5 371.0,317.0 C370.7,320.5 370.2,324.5 370.0,328.0 C369.8,331.5 370.0,335.2 370.0,338.0 C370.0,340.8 370.8,343.3 370.0,345.0Z" fill="#ff4500"/>
<path d="M496.6,328.0 C498.1,328.0 500.0,328.6 501.0,329.4 C502.0,330.2 502.8,331.7 502.8,332.8 C502.8,333.9 502.0,335.4 501.0,336.2 C500.0,337.0 498.1,337.6 496.6,337.6 C495.1,337.6 493.2,337.0 492.2,336.2 C491.2,335.4 490.4,333.9 490.4,332.8 C490.4,331.7 491.2,330.2 492.2,329.4 C493.2,328.6 495.1,328.0 496.6,328.0Z" fill="#ff4500"/>
<path d="M464.0,397.0 C464.7,395.9 467.2,393.7 469.0,393.0 C470.8,392.3 473.4,392.5 475.0,393.0 C476.6,393.5 478.4,394.8 478.6,396.0 C478.9,397.2 477.5,399.0 476.5,400.0 C475.5,401.0 473.8,401.8 472.4,402.0 C471.0,402.2 469.6,401.8 468.3,401.4 C467.0,400.9 465.5,400.0 464.8,399.3 C464.1,398.6 463.3,398.1 464.0,397.0Z" fill="#ffa900"/>
<path d="M450.0,364.0 C450.4,363.7 451.5,363.8 452.0,364.0 C452.5,364.2 453.1,365.0 453.0,365.5 C452.9,366.0 452.1,366.9 451.5,367.0 C450.9,367.1 449.8,366.5 449.5,366.0 C449.2,365.5 449.6,364.3 450.0,364.0Z" fill="#ffa900"/>
<path d="M553.5,371.6 L557.2,375.6 L553.8,379.4 L550.0,375.4Z" fill="#ff4500"/>
<path d="M546.6,407.2 C547.5,407.2 549.4,409.1 549.4,410.0 C549.4,410.9 547.5,412.8 546.6,412.8 C545.7,412.8 543.8,410.9 543.8,410.0 C543.8,409.1 545.7,407.2 546.6,407.2Z" fill="#ff4500"/>
<path d="M512.0,453.0 C512.6,451.7 513.8,449.6 516.0,448.0 C518.2,446.4 522.7,443.8 525.0,443.6 C527.3,443.4 529.2,445.8 530.0,447.0 C530.8,448.2 530.8,449.5 530.0,451.0 C529.2,452.5 526.8,454.3 525.0,456.0 C523.2,457.7 520.7,460.5 519.0,461.0 C517.3,461.5 516.1,459.8 515.0,459.0 C513.9,458.2 512.9,457.0 512.4,456.0 C511.9,455.0 511.4,454.3 512.0,453.0Z" fill="#ff4500"/>
<path class="grid" d="M349.4,21.4 L-201.1,21.4 M349.4,21.4 L-182.3,163.9 M349.4,21.4 L-127.3,296.7 M349.4,21.4 L-39.9,410.7 M349.4,21.4 L74.1,498.1 M349.4,21.4 L206.9,553.1 M349.4,21.4 L349.4,571.9 M349.4,21.4 L491.9,553.1 M349.4,21.4 L624.7,498.1 M349.4,21.4 L738.7,410.7 M349.4,21.4 L826.1,296.7 M349.4,21.4 L881.1,163.9 M349.4,21.4 L899.9,21.4 M-104.5,21.4 A453.9,453.9 0 1 0 803.3,21.4 A453.9,453.9 0 1 0 -104.5,21.4 M23.7,21.4 A325.7,325.7 0 1 0 675.1,21.4 A325.7,325.7 0 1 0 23.7,21.4 M138.7,21.4 A210.7,210.7 0 1 0 560.1,21.4 A210.7,210.7 0 1 0 138.7,21.4 M245.9,21.4 A103.5,103.5 0 1 0 452.9,21.4 A103.5,103.5 0 1 0 245.9,21.4"/>
<path d="M241.0,153.3 L242.6,152.2 L244.5,151.6 L246.4,151.4 L248.3,150.9 L250.0,152.6 L250.3,155.3 L248.6,157.1 L250.7,158.1 L252.3,158.1 L253.8,157.8 L256.2,159.1 L257.6,161.2 L260.3,161.9 L263.1,161.6 L265.5,161.9 L266.6,164.3 L267.6,165.7 L266.2,167.8 L267.2,169.8 L267.6,172.2 L265.9,174.0 L263.1,175.0 L261.8,175.8 L260.3,176.4 L257.6,176.7 L255.5,176.6 L253.4,176.4 L251.7,176.1 L250.0,175.7 L248.3,175.9 L246.6,176.4 L244.8,174.7 L243.1,172.2 L242.1,169.5 L240.0,167.4 L237.9,165.7 L239.7,165.0 L241.1,164.5 L242.4,163.6 L242.8,161.6 L241.4,159.8 L239.0,158.1 L241.0,157.8 L243.8,158.4 L245.5,156.7 L243.8,155.3 L242.1,154.3Z" fill="#fff"/>
<path class="sig" d="M168.0,130.0 C168.3,130.5 170.0,133.3 171.0,134.0 C172.0,134.7 174.7,136.1 176.6,136.3 C178.5,136.5 185.2,135.7 187.6,135.6 C190.0,135.5 195.3,135.2 197.2,135.5 C199.1,135.8 202.6,137.5 204.1,138.3 C205.6,139.1 208.7,141.4 209.7,142.5 C210.7,143.6 212.1,145.9 212.4,147.3 C212.7,148.7 212.1,152.6 212.1,154.2 C212.1,155.8 212.2,159.7 212.4,161.1 C212.6,162.5 213.3,165.5 213.8,166.6 C214.3,167.7 215.6,169.8 216.6,170.8 C217.6,171.9 220.8,174.6 222.1,175.6 C223.4,176.6 226.7,178.8 227.6,179.7 C228.5,180.6 229.5,182.3 230.0,183.2 C230.5,184.1 231.4,186.4 231.7,187.6 C232.0,188.8 232.4,191.9 232.8,193.1 C233.2,194.3 234.7,196.9 235.5,197.5 C236.3,198.1 238.8,198.5 239.4,198.1 C240.0,197.7 240.7,195.3 241.0,194.2 C241.3,193.1 241.3,189.7 241.6,188.7 C241.9,187.7 243.0,185.9 243.8,185.4 C244.6,184.9 247.1,184.2 248.2,184.3 C249.3,184.4 252.2,185.4 253.2,185.9 C254.2,186.4 255.7,187.9 256.5,188.7 C257.3,189.5 259.0,191.7 259.8,192.6 C260.6,193.5 262.5,195.6 263.1,196.4 C263.7,197.2 264.8,198.3 264.8,199.2 C264.8,200.1 263.4,203.0 263.1,204.1 C262.8,205.2 262.1,207.6 262.0,208.6 C261.9,209.6 261.9,211.5 262.2,212.5 C262.5,213.5 263.7,216.2 264.5,217.2 C265.3,218.2 268.1,220.7 269.3,221.4 C270.5,222.1 273.5,223.3 274.8,223.4 C276.1,223.5 279.0,222.6 280.3,222.1 C281.6,221.6 284.6,220.0 285.9,219.3 C287.2,218.6 290.2,216.8 291.4,215.9 C292.6,215.0 295.3,212.5 296.2,211.5 C297.1,210.5 298.9,208.1 299.5,207.0 C300.1,205.9 300.9,203.1 301.2,201.9 C301.5,200.7 301.8,197.7 301.9,196.4 C302.0,195.1 301.9,191.8 301.7,190.9 C301.5,190.0 300.9,188.7 300.1,188.5 C299.3,188.3 296.3,188.7 295.1,188.9 C293.9,189.1 290.8,189.8 289.6,189.8 C288.4,189.8 286.0,189.2 285.2,188.7 C284.4,188.2 282.9,186.3 282.4,185.4 C281.9,184.5 281.4,182.3 281.3,181.0 C281.2,179.7 281.8,175.7 281.9,174.3 C282.0,172.9 282.2,170.0 281.9,168.8 C281.6,167.6 280.4,165.4 279.7,164.4 C279.0,163.4 277.1,161.8 276.3,160.0 C275.5,158.2 274.3,151.4 273.0,149.0 C271.7,146.6 266.8,140.8 265.0,139.0 C263.2,137.2 259.2,135.2 258.0,134.0 C256.8,132.8 255.3,129.6 255.0,129.0"/>
<path class="sig" d="M205.0,125.0 C205.4,126.1 207.3,132.9 208.3,134.2 C209.3,135.5 212.5,135.9 213.8,136.3 C215.1,136.7 218.2,137.2 219.3,137.7 C220.4,138.2 222.4,139.7 223.4,140.4 C224.4,141.1 226.6,143.1 227.6,143.9 C228.6,144.7 230.6,146.7 231.7,147.3 C232.8,147.9 235.9,148.7 237.2,148.7 C238.5,148.7 241.8,147.9 242.8,147.3 C243.8,146.7 245.3,144.8 245.5,143.9 C245.7,143.0 245.1,140.6 244.8,139.7 C244.5,138.8 243.4,136.9 242.8,136.3 C242.2,135.7 240.3,135.5 240.0,134.2 C239.7,132.9 240.0,126.1 240.0,125.0"/>
<path class="sig" d="M570.0,128.0 C569.9,128.7 569.4,132.5 569.0,134.0 C568.6,135.5 567.6,139.6 567.0,141.0 C566.4,142.4 564.8,144.6 564.0,146.0 C563.2,147.4 561.2,151.1 560.0,153.0 C558.8,154.9 555.4,160.0 554.0,162.0 C552.6,164.0 549.3,168.5 548.0,170.0 C546.7,171.5 544.2,173.8 543.0,175.0 C541.8,176.2 539.2,178.5 538.0,180.0 C536.8,181.5 534.0,186.1 533.0,188.0 C532.0,189.9 529.8,194.2 529.0,196.0 C528.2,197.8 526.6,201.6 526.0,203.0 C525.4,204.4 524.9,207.2 524.0,208.0 C523.1,208.8 519.6,209.4 518.0,210.0 C516.4,210.6 511.6,212.2 510.0,213.0 C508.4,213.8 505.1,215.9 504.0,217.0 C502.9,218.1 501.7,220.6 501.0,222.0 C500.3,223.4 498.6,227.0 498.0,229.0 C497.4,231.0 496.0,236.4 496.0,239.0 C496.0,241.6 497.5,248.2 498.0,251.0 C498.5,253.8 499.6,260.6 500.0,263.0 C500.4,265.4 501.1,270.2 501.0,272.0 C500.9,273.8 499.4,276.9 499.5,278.0 C499.6,279.1 500.8,280.4 502.0,281.0 C503.2,281.6 508.4,282.6 510.0,283.0 C511.6,283.4 514.6,284.1 516.0,284.5 C517.4,284.9 520.7,285.5 522.0,286.0 C523.3,286.5 526.1,287.9 527.0,289.0 C527.9,290.1 529.6,293.6 530.0,295.0 C530.4,296.4 529.5,299.9 530.0,301.0 C530.5,302.1 532.6,303.4 534.0,304.0 C535.4,304.6 540.1,305.4 542.0,306.0 C543.9,306.6 548.4,308.1 550.0,309.0 C551.6,309.9 555.0,312.8 556.0,314.0 C557.0,315.2 558.5,317.8 559.0,319.0 C559.5,320.2 560.1,322.7 560.5,324.0 C560.9,325.3 561.6,328.8 562.0,330.0 C562.4,331.2 563.5,333.1 564.0,334.0 C564.5,334.9 565.8,336.8 566.5,337.5 C567.2,338.2 569.3,339.9 570.0,340.0 C570.7,340.1 572.2,338.8 572.8,338.3 C573.4,337.8 574.1,336.0 574.8,335.5 C575.5,335.0 577.9,334.3 579.0,334.1 C580.1,333.9 583.0,333.6 584.0,333.6 C585.0,333.6 587.2,333.8 588.0,334.0 C588.8,334.2 590.3,335.2 591.0,335.0 C591.7,334.8 593.4,332.8 594.0,332.0 C594.6,331.2 595.3,328.9 596.0,328.0 C596.7,327.1 599.2,325.1 600.0,324.0 C600.8,322.9 602.8,320.3 603.0,319.0 C603.2,317.7 602.5,314.4 602.0,313.0 C601.5,311.6 599.5,308.4 599.0,307.0 C598.5,305.6 597.8,302.3 598.0,301.0 C598.2,299.7 600.1,297.1 601.0,296.0 C601.9,294.9 604.7,292.2 606.0,292.0 C607.3,291.8 610.4,293.5 612.0,294.0 C613.6,294.5 619.1,295.8 620.0,296.0"/>
<path class="sig" d="M620.0,152.0 C619.1,152.3 613.6,154.3 612.0,155.0 C610.4,155.7 607.3,156.9 606.0,158.0 C604.7,159.1 601.9,162.4 601.0,164.0 C600.1,165.6 598.8,170.1 598.4,172.0 C598.0,173.9 597.8,178.5 598.0,180.0 C598.2,181.5 599.1,184.2 600.0,185.0 C600.9,185.8 604.6,186.5 606.0,187.0 C607.4,187.5 610.4,188.7 612.0,189.0 C613.6,189.3 619.1,189.9 620.0,190.0"/>
<path class="sig" d="M588.5,199.5 C588.7,198.9 590.0,196.5 590.5,196.0 C591.0,195.5 592.2,195.3 592.5,195.5 C592.8,195.7 593.2,197.4 593.0,198.0 C592.8,198.6 591.5,200.6 591.0,201.0 C590.5,201.4 589.3,201.7 589.0,201.5 C588.7,201.3 588.3,200.1 588.5,199.5Z"/>
<path class="sig" d="M550.4,271.6 C550.5,271.4 551.4,271.3 551.6,271.4 C551.8,271.5 551.9,272.4 551.8,272.6 C551.7,272.8 550.8,272.9 550.6,272.8 C550.4,272.7 550.3,271.8 550.4,271.6Z"/>
<path class="coast" d="M241.0,153.3 L242.6,152.2 L244.5,151.6 L246.4,151.4 L248.3,150.9 L250.0,152.6 L250.3,155.3 L248.6,157.1 L250.7,158.1 L252.3,158.1 L253.8,157.8 L256.2,159.1 L257.6,161.2 L260.3,161.9 L263.1,161.6 L265.5,161.9 L266.6,164.3 L267.6,165.7 L266.2,167.8 L267.2,169.8 L267.6,172.2 L265.9,174.0 L263.1,175.0 L261.8,175.8 L260.3,176.4 L257.6,176.7 L255.5,176.6 L253.4,176.4 L251.7,176.1 L250.0,175.7 L248.3,175.9 L246.6,176.4 L244.8,174.7 L243.1,172.2 L242.1,169.5 L240.0,167.4 L237.9,165.7 L239.7,165.0 L241.1,164.5 L242.4,163.6 L242.8,161.6 L241.4,159.8 L239.0,158.1 L241.0,157.8 L243.8,158.4 L245.5,156.7 L243.8,155.3 L242.1,154.3Z M274.6,201.7 L278.3,201.8 L276.2,202.8 L275.5,206.9 M290.0,220.0 L292.1,221.4 L290.7,224.1 M281.0,227.6 L283.8,226.9 L282.4,229.7 L281.0,228.6 M400.0,157.8 L398.7,157.6 L397.4,157.5 L396.3,156.4 L394.8,156.7 L393.8,155.8 L392.4,155.4 L391.0,155.3 L389.5,155.3 L388.3,154.4 L386.9,153.5 L385.2,153.1 L384.1,151.6 L382.7,151.0 L381.1,150.8 L380.0,149.6 L378.8,150.5 L377.3,150.3 L375.8,150.1 L374.5,150.9 L373.3,152.1 L371.9,152.7 L370.3,152.8 L369.0,153.7 L367.5,153.8 L366.7,155.0 L365.7,155.9 L364.2,155.9 L363.4,157.1 L362.8,158.5 L361.1,158.5 L360.5,160.0 L359.3,160.6 L358.6,161.8 L357.6,162.7 L356.4,163.4 L355.2,164.0 L353.7,164.6 L353.2,166.2 L351.7,166.8 L350.9,167.9 L350.2,169.0 L349.7,170.2 L349.6,171.7 L349.1,173.0 L349.0,174.4 L349.2,175.9 L348.9,177.3 L348.3,178.6 L347.6,179.9 L346.7,181.2 L346.3,182.7 L345.7,184.2 L344.7,185.4 L344.1,186.8 L343.5,188.0 L343.0,189.2 L341.7,190.0 L341.1,191.2 L341.0,192.7 L340.0,193.7 L339.1,194.9 L338.4,196.1 L337.1,197.1 L336.5,198.4 L336.2,199.9 L335.2,201.0 L336.6,200.2 L336.5,198.3 L337.7,197.4 L339.0,196.5 L339.2,194.8 L340.5,193.9 L341.4,192.8 L340.8,194.1 L339.2,194.3 L338.0,195.1 L337.2,196.2 L336.5,197.4 L335.4,198.4 L335.4,200.0 L334.5,201.0 L333.2,201.7 L332.1,202.8 L331.0,203.8 L329.3,204.4 L327.6,205.2 L326.5,206.1 L325.0,206.6 L324.1,207.9 L322.6,208.4 L321.9,209.8 L320.7,210.7 L319.4,211.2 L318.7,212.6 L317.2,212.8 L316.3,213.8 L315.7,215.0 L315.2,216.2 L313.8,217.7 L313.8,219.7 L313.6,221.1 L314.6,222.4 L314.5,223.8 L313.9,225.6 L313.1,227.2 L313.1,228.7 L314.2,229.9 L313.8,231.4 L313.6,232.8 L313.8,234.2 L313.1,235.5 L314.6,236.6 L315.2,238.3 L316.4,239.8 L316.6,241.7 L317.5,242.7 L319.1,242.7 L320.0,243.8 M399.6,157.7 L398.7,158.8 M398.4,157.3 L398.1,157.9 M396.8,156.8 L397.2,155.9 M395.0,156.2 L394.6,157.4 M392.4,155.4 L392.7,154.3 M390.3,154.9 L391.1,153.9 M388.6,154.5 L389.2,153.7 M388.2,154.3 L387.8,155.0 M386.0,152.9 L385.4,154.1 M384.8,152.0 L384.2,152.4 M382.4,150.7 L383.0,150.0 M381.3,150.2 L380.3,151.1 M378.9,149.8 L378.4,148.9 M376.4,150.4 L376.4,151.7 M375.7,150.6 L376.1,151.3 M372.9,151.7 L373.3,153.0 M371.0,152.7 L371.1,153.5 M370.0,153.2 L369.9,152.2 M368.4,154.0 L368.6,154.8 M366.5,155.2 L367.2,155.7 M365.7,155.7 L364.5,155.0 M364.6,156.4 L364.2,155.5 M362.6,157.8 L362.8,158.7 M361.2,159.0 L360.8,157.8 M359.4,160.5 L360.4,160.9 M359.2,160.7 L359.5,161.2 M357.0,162.5 L356.7,161.9 M355.2,164.0 L355.0,163.4 M353.7,165.2 L353.9,165.8 M351.8,166.8 L352.1,167.7 M351.5,167.2 L352.5,168.0 M350.6,168.7 L351.7,169.0 M349.5,171.3 L348.8,171.2 M349.0,174.0 L349.9,174.5 M348.8,175.2 L349.4,175.2 M348.2,177.3 L347.6,177.4 M347.8,179.0 L349.1,179.4 M347.3,180.5 L347.9,181.3 M346.2,182.7 L344.7,182.7 M345.0,185.0 L344.5,184.4 M344.6,185.8 L343.6,185.3 M343.6,187.7 L342.3,187.2 M343.2,188.3 L342.1,188.3 M341.8,190.7 L341.1,190.2 M341.3,191.5 L339.9,191.2 M340.3,193.1 L339.7,192.4 M339.2,194.9 L339.9,195.7 M339.0,195.3 L337.6,195.2 M337.3,197.8 L336.1,197.7 M336.8,198.5 L336.0,197.5 M335.3,200.8 L334.7,200.1 M335.4,200.7 L336.0,201.5 M337.0,198.5 L336.3,197.7 M338.0,197.2 L338.7,198.4 M338.5,196.6 L339.6,196.9 M340.1,194.4 L339.5,194.1 M340.4,194.0 L341.5,194.2 M341.3,192.9 L341.8,193.8 M339.9,194.0 L341.0,194.8 M338.1,195.5 L339.2,196.2 M336.7,197.2 L335.9,197.0 M335.4,199.4 L336.1,199.4 M334.8,200.4 L335.5,201.1 M333.8,201.6 L334.0,202.6 M332.4,202.7 L332.8,203.4 M330.7,203.9 L331.3,205.2 M328.0,205.0 L327.9,203.7 M327.2,205.5 L327.8,206.2 M324.2,207.8 L324.8,209.2 M323.8,208.2 L324.4,208.6 M322.3,209.4 L321.6,208.3 M319.1,211.7 L318.3,210.9 M317.3,212.7 L316.5,212.0 M316.4,214.1 L315.7,213.9 M315.7,215.3 L315.1,215.0 M314.5,217.9 L313.4,217.9 M314.1,218.9 L315.0,218.9 M314.0,221.0 L313.3,220.7 M314.4,223.5 L313.4,223.5 M314.0,225.0 L315.2,225.0 M313.8,225.5 L312.6,225.2 M313.1,227.5 L311.8,227.8 M313.6,230.5 L312.5,231.5 M313.8,231.5 L312.6,231.9 M313.3,234.2 L314.7,234.4 M313.3,235.8 L312.7,236.3 M315.1,238.2 L314.0,238.8 M315.6,239.4 L316.0,238.9 M316.3,241.1 L317.6,241.3 M317.0,242.0 L316.5,242.7 M318.6,242.9 L318.4,243.6 M320.0,243.8 L324.1,243.1 L327.6,241.0 L331.0,238.3 L333.1,234.8 L333.8,236.9 L334.5,241.0 L335.2,245.2 L336.6,249.3 L338.6,253.4 L341.4,258.0 M351.7,167.5 L350.6,168.8 L349.0,169.1 L347.5,170.3 L346.2,171.6 L345.2,173.0 L343.9,174.0 M369.7,190.0 L369.0,194.1 L367.6,198.3 L365.5,202.4 L362.8,205.9 L359.3,210.0 L357.2,214.8 L356.6,219.7 L357.9,224.5 L360.7,227.9 L364.1,230.0 L362.8,232.8 L359.3,234.1 L355.2,235.5 L352.4,237.6 L354.5,239.0 L352.4,241.7 L349.0,243.8 L347.6,246.6 L348.3,248.6 M381.4,190.0 L379.3,194.1 L376.6,198.3 L373.1,203.1 L370.3,207.2 L371.0,211.4 L371.7,216.2 L372.4,221.0 L373.8,225.2 L376.6,227.9 L380.0,228.6 L384.1,227.2 L389.7,225.2 L395.2,223.8 L400.0,222.4 M400.0,230.0 L395.2,230.0 L389.7,231.4 L385.5,232.8 L382.8,235.5 L380.0,237.6 L378.6,241.0 L381.4,243.1 L384.1,241.0 L386.2,243.8 L386.9,247.9 L384.1,250.7 L380.7,249.3 L377.9,247.9 L375.9,251.4 L375.2,255.5 L375.9,258.0 M340.0,238.3 L342.1,236.6 L344.4,237.6 L344.8,239.9 L343.0,242.1 L340.7,241.7Z M346.9,242.1 L347.6,244.5 L346.9,246.8 M362.8,247.9 L364.6,246.8 L364.1,250.0 L362.8,252.8 L362.1,250.7Z M402.8,213.4 L405.5,212.1 L409.7,212.8 L412.4,214.8 L413.1,218.3 L412.4,221.7 L409.7,223.8 L406.9,223.1 L404.8,220.3 L403.4,216.9Z M411.0,194.8 L413.8,195.5 L414.4,197.3 L415.2,199.0 L416.0,200.5 L417.2,201.7 L418.4,203.3 L420.0,204.5 L420.7,206.4 L422.1,207.9 L421.8,209.7 L422.1,211.4 L419.3,212.1 L417.2,210.0 L416.9,208.1 L415.9,206.6 L414.5,205.5 L413.8,203.8 L413.1,202.1 L412.4,200.3 L411.7,198.7 L410.3,197.6Z M433.1,221.7 L435.9,221.0 L439.3,223.1 L440.0,226.1 L437.9,227.9 L434.5,227.0 L432.4,224.5Z M428.6,214.1 L431.0,213.7 L431.3,215.5 L429.0,215.9Z M435.2,214.8 L437.9,215.1 L437.7,216.5 M394.9,234.8 L396.6,234.1 L397.9,236.9 L400.0,240.3 L400.7,242.1 L399.0,242.1 L396.8,239.0 L395.2,236.9Z M411.0,234.4 L413.1,234.1 L413.8,235.8 L412.0,236.6Z M380.0,230.0 L384.1,227.9 L389.7,225.2 L395.2,223.1 L399.3,222.0 L402.1,223.8 L404.1,226.6 L400.7,227.2 L396.6,227.2 L393.1,227.9 L389.7,230.0 L385.5,231.4 L382.1,234.1 L380.7,237.6 L381.4,240.3 L380.0,241.0 M391.7,212.5 L391.5,213.9 L390.2,215.2 L390.1,215.7 L388.8,215.4 L387.4,215.6 L389.0,216.2 M394.0,209.8 L394.7,210.3 L393.2,208.3 L393.4,206.5 L392.1,205.4 L390.1,205.2 L389.9,206.7 M392.8,213.7 L390.7,212.0 L391.4,211.6 L391.6,213.4 L389.9,212.4 L390.9,212.5 L389.0,212.7 M386.2,205.2 L385.8,207.1 L387.2,205.1 L386.0,206.8 L385.9,208.8 L385.4,207.0 M394.6,216.0 L393.9,215.2 L391.9,214.8 L393.6,213.3 L394.5,211.2 L394.4,211.2 M395.4,206.5 L397.4,207.6 L397.1,207.2 L396.7,209.2 L394.6,210.7 M400.1,213.0 L398.9,212.5 L400.4,213.1 L398.7,215.2 M387.9,207.6 L389.3,207.2 L387.5,205.9 L388.1,203.9 L387.5,204.4 L386.0,204.8 M397.8,205.7 L396.5,204.2 L398.2,205.6 L397.2,204.3 L398.2,206.1 L396.9,208.0 L398.5,208.4 M391.2,205.2 L391.3,204.1 L392.3,203.7 L392.0,205.4 M392.4,211.8 L390.8,211.7 L391.4,212.2 L389.7,211.0 M399.1,215.5 L398.2,215.3 L396.4,213.9 L395.8,214.2 M386.6,209.3 L388.6,209.9 L389.4,210.3 L387.9,208.4 L385.9,210.1 L386.7,212.0 L384.7,212.6 M392.2,215.2 L390.7,213.4 L390.5,212.9 L388.6,214.7 L389.6,213.1 L391.5,212.5 M385.9,211.1 L387.4,210.7 L388.6,212.2 L388.9,212.8 M390.6,212.8 L388.9,213.4 L390.9,215.0 L391.9,214.5 M396.3,212.8 L396.1,213.0 L396.2,213.0 L395.4,211.3 L393.4,213.2 L391.8,214.4 L392.5,214.3 M398.8,209.4 L399.6,208.1 L398.2,209.8 L398.9,209.6 L400.5,208.9 M395.2,206.7 L396.4,207.7 L395.2,206.5 L394.0,208.3 L392.8,206.8 L392.2,208.4 L390.3,206.6 M400.2,216.6 L400.0,215.7 L398.8,215.4 L399.3,215.3 M389.5,216.9 L388.8,218.3 L387.9,218.7 L388.6,217.8 L388.0,218.5 L388.3,219.0 L387.9,217.7 M396.8,207.8 L398.0,209.8 L396.4,208.1 L396.6,208.7 L396.0,207.0 M387.7,216.7 L386.3,214.6 L386.2,215.5 L384.9,214.6 L384.2,215.4 L384.3,215.9 M396.6,209.8 L394.9,211.6 L395.8,210.1 L395.6,210.6 L397.3,210.1 M393.6,217.6 L393.5,218.2 L392.2,219.1 L393.5,219.7 L394.5,218.5 L396.1,220.5 M400.1,212.1 L399.1,213.0 L397.1,213.0 L395.2,212.4 L394.9,211.4 L396.6,210.3 M398.4,210.4 L397.0,209.7 L398.2,208.2 L396.8,208.2 M396.1,216.9 L397.9,216.9 L399.8,215.2 L398.6,215.3 L397.8,216.2 L398.3,216.3 L399.8,216.6 M389.5,209.6 L388.7,208.1 L388.9,207.2 L388.8,206.8 L387.2,204.7 M390.5,212.1 L390.6,211.7 L391.9,212.0 L391.8,212.8 M385.6,212.1 L387.3,213.4 L386.9,212.3 L386.9,211.6 L388.5,213.5 L390.3,213.6 L388.7,213.2 M385.0,207.7 L383.0,206.2 L381.0,205.3 L381.9,204.3 M392.5,211.5 L393.9,212.0 L394.9,212.8 L396.4,210.9 M394.6,216.7 L394.8,218.2 L394.9,217.0 L393.7,217.2 L394.1,215.7 M399.1,213.5 L400.8,212.8 L400.0,214.5 L398.9,216.6 L400.5,215.1 L399.4,216.0 M388.7,205.1 L388.8,205.9 L387.6,206.4 L388.8,204.8 L389.1,204.2 L390.5,203.6 L391.3,204.1 M390.0,219.5 L391.3,219.4 L389.3,220.5 L389.7,222.2 L389.7,220.9 M386.3,206.3 L388.4,208.0 L386.7,206.2 L388.6,206.1 L389.7,205.3 M392.0,211.7 L390.8,211.2 L391.3,209.3 L390.1,208.9 L389.5,208.4 L391.2,208.8 L389.6,210.0 M389.7,204.9 L390.0,203.6 L390.3,202.9 L391.4,202.0 L389.8,203.0 L388.4,204.8 L386.9,204.1 M397.8,207.6 L396.7,206.0 L396.3,205.3 L397.2,205.9 L397.6,206.1 L398.1,204.9 M397.5,202.6 L396.1,203.6 L394.7,204.2 L394.2,203.9 L395.3,202.4 M394.5,210.2 L393.2,211.7 L394.6,210.5 L394.4,209.3 L393.8,209.7 M395.3,208.0 L395.5,208.0 L394.2,208.3 L394.7,208.2 M398.9,206.4 L400.4,207.9 L400.9,207.5 L400.5,208.1 M399.4,202.1 L398.9,201.7 L399.1,202.6 L398.1,202.2 L399.2,200.7 M394.2,207.8 L393.8,208.6 L392.6,208.8 L391.5,209.4 M394.3,203.8 L394.6,204.5 L394.7,204.1 L394.2,203.9 L394.8,205.1 L394.0,206.6 M397.7,206.5 L396.7,207.3 L398.0,205.7 L397.3,206.6 L396.8,205.7 M394.1,201.4 L395.6,203.0 L395.6,201.5 L395.1,202.4 M395.6,193.6 L395.1,193.0 L395.7,193.4 L395.1,193.9 L394.9,194.6 M395.7,185.0 L395.3,184.4 L396.1,184.7 L395.2,184.9 L395.6,184.0 L396.0,183.1 M397.0,182.5 L397.9,182.2 L398.1,183.3 L399.2,182.3 L399.5,183.3 M398.5,192.5 L397.7,191.4 L398.6,191.5 L397.8,191.3 L397.1,192.1 L397.1,191.1 M399.9,182.6 L398.9,181.7 L398.7,182.2 L398.9,182.0 L400.1,181.2 L399.8,180.7 M397.8,188.5 L397.1,188.2 L397.0,188.5 L397.0,188.7 M397.9,185.8 L396.7,186.3 L397.8,186.1 L397.4,186.3 L398.6,185.7 L398.1,184.9 L398.4,184.8 M396.5,188.0 L395.7,186.8 L394.5,186.8 L394.5,187.6 M400.9,183.0 L401.6,181.8 L401.0,181.8 L400.2,181.0 L400.7,180.6 M399.3,197.1 L399.5,197.4 L400.6,198.0 L400.6,198.9 M397.2,187.9 L397.3,188.6 L396.8,189.7 L397.1,189.0 L398.2,189.0 L397.8,188.3 L396.8,187.6 M399.2,183.5 L399.1,182.6 L400.1,181.4 L399.1,181.9 L399.2,181.7 L399.1,180.7 M386.8,208.1 L385.9,209.4 L384.7,210.3 L385.1,211.2 M387.0,210.4 L386.9,210.0 L386.6,209.6 L387.8,208.9 L387.4,208.4 L386.9,209.0 M383.5,213.8 L383.5,213.7 L384.3,213.5 L383.8,214.0 L383.7,214.7 L384.5,213.6 L385.6,214.5 M382.2,213.3 L381.6,213.3 L382.6,212.3 L381.6,211.1 M383.8,216.4 L383.6,216.4 L382.7,217.6 L382.4,216.9 L381.9,217.7 L381.4,218.7 M383.0,212.4 L383.7,213.3 L383.1,212.4 L383.5,212.1 M380.0,152.3 L384.1,155.8 L389.7,155.1 L395.2,156.4 L400.7,157.1 L406.2,157.6 L411.7,158.9 L415.9,160.6 L419.3,164.0 L420.7,168.2 L419.3,172.3 L415.9,174.4 L411.0,175.1 L405.5,175.1 L400.7,174.4 L397.2,173.7 L400.7,176.4 L404.1,178.5 L406.9,181.3 L408.3,184.7 L409.7,187.5 L413.1,188.9 L416.6,189.6 L420.0,188.2 L419.3,185.4 L415.9,184.7 L413.8,182.7 L415.9,181.3 L420.0,182.0 L423.4,181.3 L424.1,179.2 L422.1,177.1 L421.4,173.7 L422.8,170.2 L424.1,166.8 L426.2,165.4 L429.0,166.8 L430.3,164.0 L428.3,161.3 L426.2,158.5 L424.1,155.8 L425.5,153.7 L422.8,150.9 L420.7,150.9 M424.1,150.2 L427.6,150.9 L429.0,153.7 L428.3,157.1 L431.0,159.2 L434.5,157.8 L435.9,154.4 L434.5,151.6 L435.2,148.9 L437.2,144.7 L439.3,140.6 L441.4,137.1 L442.8,134.4 M428.3,139.9 L430.3,138.8 L433.1,139.6 L433.1,142.0 L431.0,144.0 L429.0,142.7Z M443.4,133.7 L446.2,135.8 L444.8,138.5 L442.1,137.8Z M240.9,252.2 L242.5,251.2 L244.3,250.9 L245.9,251.3 L247.5,251.5 L249.1,251.6 L250.2,250.2 L251.2,248.8 L252.9,248.2 L254.7,248.1 L256.3,249.1 L258.1,249.5 L260.2,251.6 L260.6,253.4 L261.6,255.0 L260.9,257.8 L258.8,259.1 L259.5,261.9 L258.8,263.6 L258.1,265.3 L257.1,267.1 L256.0,268.8 L254.8,270.2 L253.3,271.1 L251.7,272.2 L249.8,272.2 L247.8,272.2 L245.7,272.0 L243.6,272.2 L241.6,272.5 L239.8,272.7 L238.1,272.0 L236.4,271.3 L234.7,271.1 L233.3,268.8 L234.1,267.3 L235.3,266.0 L237.0,265.1 L238.8,264.7 L241.6,263.3 L239.5,261.2 L240.2,258.4 L242.2,257.1 L240.2,255.0Z M275.3,235.0 L278.1,237.1 L280.9,239.8 L282.2,242.6 L280.2,245.3 L277.4,247.4 L274.0,248.8 L276.7,250.2 L278.1,252.9 L278.2,255.0 L278.8,257.1 L279.4,259.1 L279.5,261.2 L280.9,264.7 L281.6,266.7 L281.8,268.8 L281.6,272.2 L282.9,275.7 L286.4,276.4 L288.4,278.4 L288.7,281.2 L287.1,284.0 L284.3,286.0 L282.2,287.4 L284.3,288.8 L283.6,290.2 L280.9,291.6 L277.4,291.8 L275.4,291.3 L273.3,291.3 L271.2,291.3 L269.1,290.9 L265.7,289.9 L263.6,289.7 L261.6,289.1 L258.1,288.1 L254.7,288.8 L251.2,288.8 L249.1,288.5 L252.6,286.7 L254.4,285.8 L256.0,284.7 L258.8,283.3 L261.6,283.6 L265.0,283.3 L267.1,282.6 L264.3,281.9 L261.6,281.2 L258.8,279.1 L256.0,277.8 L257.4,275.7 L260.2,275.0 L262.2,272.9 L261.1,270.2 L262.9,268.1 L265.7,267.4 L268.4,268.1 L269.8,266.0 L269.1,263.3 L270.5,261.2 L271.9,257.8 L269.8,257.1 L266.4,257.8 L264.3,256.4 M264.3,256.4 L265.8,255.3 L265.0,253.6 L266.8,252.8 L266.4,250.9 L266.7,249.0 L265.0,248.1 L263.2,246.8 L263.6,244.7 L264.1,243.3 L263.9,241.9 L264.3,240.5 L264.0,238.8 L263.6,237.1 L264.3,235.0 M264.3,260.1 L265.7,259.8 L265.4,261.2Z M274.1,248.0 L276.2,246.2 L278.1,246.0 L279.7,244.8 L281.6,244.0 L282.4,242.1 L282.4,240.1 L283.8,238.6 L281.7,237.2 L279.5,236.4 L277.6,237.9 L276.0,237.4 L275.5,235.9 L277.6,234.5 L279.0,233.9 L279.3,231.9 L281.0,231.7 L279.7,229.7 L278.0,229.2 L276.6,230.8 L274.9,229.7 L273.4,230.3 L271.7,230.9 L270.7,232.4 L269.9,231.0 L268.3,230.7 L267.2,229.7 L265.3,230.0 L264.5,231.7 L262.7,233.0 L263.1,235.2 L264.8,235.6 L265.2,237.2 L263.8,238.2 L262.4,239.3 L262.1,241.2 L263.8,242.1 L262.3,243.1 L261.7,244.8 L263.8,246.2 L263.1,248.0 M266.6,228.3 L265.3,229.5 L263.8,230.3 L262.1,231.2 L261.7,233.1 L260.4,234.2 L260.3,235.9 M276.0,295.7 L278.1,296.2 L280.2,296.4 L283.6,295.7 L285.7,293.6 L287.7,292.4 L289.8,291.6 L291.8,290.3 L294.0,289.5 L296.1,288.9 L298.1,288.1 L300.2,285.3 L302.2,283.3 L302.9,280.5 L305.7,279.1 L309.1,279.4 L311.1,278.6 L313.3,278.4 L316.7,277.1 L320.2,277.8 M302.9,281.2 L305.7,280.8 L306.7,283.3 L305.0,285.3 L303.1,284.4Z M302.1,285.3 L302.6,283.7 L302.8,281.9 L304.0,280.7 L304.8,279.1 L307.6,278.0 L309.2,279.0 L311.0,278.9 L313.8,278.4 L315.5,277.9 L317.2,278.0 L318.9,277.4 L320.7,277.8 L323.4,277.1 L325.5,279.1 M320.7,277.8 L320.7,275.6 L321.4,273.6 L320.7,271.6 L320.7,269.5 L321.1,267.4 L321.4,265.3 L320.8,263.3 L320.7,261.2 L320.7,259.1 L321.4,257.1 L322.1,253.6 L324.8,252.2 L327.6,250.9 L330.3,248.8 L332.4,248.1 L331.7,251.6 L331.0,255.0 L331.7,258.4 L330.3,260.5 L328.3,261.9 L327.6,264.7 L326.2,267.4 L326.9,270.9 L329.0,272.9 L331.0,274.3 L333.8,275.7 L335.5,275.0 L337.2,274.3 L340.0,272.9 L342.1,272.2 L343.4,275.0 L345.5,277.1 L347.6,278.4 L349.0,276.4 L351.7,275.0 L353.4,274.2 L355.2,273.6 L356.8,272.4 L358.6,271.6 L362.1,270.9 L364.8,272.0 L367.6,273.6 L370.3,272.9 L372.4,270.2 L375.2,268.1 L375.9,264.7 L375.2,261.2 L375.1,259.1 L375.2,257.1 L375.8,255.0 L375.9,252.9 L376.6,249.5 L379.3,247.4 L382.1,248.8 L384.8,250.9 L386.9,248.8 L386.2,245.3 L386.9,241.9 M333.8,262.6 L335.2,261.9 L336.6,261.2 L338.0,261.8 L339.3,262.6 L340.0,265.3 L338.7,266.6 L337.9,268.1 L335.2,268.8 L333.1,266.7 L333.3,264.6Z M328.3,264.7 L331.0,264.0 L332.0,266.4 L330.3,268.8 L328.3,267.8Z M332.4,269.5 L335.2,270.2 L334.5,271.6 M313.1,235.0 L313.4,237.1 L313.8,239.1 L315.3,240.7 L316.6,242.6 L318.8,242.8 L320.7,244.0 L322.8,243.4 L324.8,242.6 L326.4,241.0 L328.3,239.8 L329.5,238.3 L331.0,237.1 L332.4,235.0 M332.4,235.0 L333.5,236.9 L333.8,239.1 L334.8,241.1 L335.2,243.3 L335.9,245.7 L336.6,248.1 L337.1,250.2 L337.9,252.2 L338.9,254.2 L339.3,256.4 L340.7,259.1 L340.0,261.9 L341.4,264.7 L344.1,266.0 L346.9,266.0 L348.3,263.3 L350.3,261.2 L353.1,259.8 L355.2,257.1 L355.2,254.9 L355.9,252.9 L355.3,250.9 L355.2,248.8 L355.7,246.8 L355.9,244.7 L356.6,241.2 L358.6,239.1 L361.4,237.8 L362.8,235.7 M362.8,248.1 L364.8,246.7 L365.5,248.8 L364.1,252.2 L362.8,253.6 L361.8,250.9Z M357.7,251.6 L358.2,255.7 L357.1,258.4 M376.6,241.9 L377.2,239.1 L378.5,238.1 L380.0,237.8 L382.8,238.9 L382.3,240.8 L381.4,242.6 L380.1,243.4 L378.6,244.0Z M340.7,240.5 L342.1,237.8 L344.8,237.1 L345.5,239.8 L343.4,242.6 L341.1,243.0Z M347.6,240.5 L348.3,244.7 L346.9,248.1 M298.1,290.0 L295.3,291.4 L293.3,291.7 L291.2,292.1 L289.1,292.3 L287.1,292.8 L284.3,294.1 L282.8,296.1 L281.6,298.3 L279.9,299.4 L278.1,300.3 L274.7,301.7 L272.6,300.3 L270.5,299.0 L268.4,298.3 L267.1,300.3 L266.4,303.1 L265.7,305.2 L262.9,304.9 L260.2,303.8 L257.4,301.7 L254.0,301.7 L250.5,301.7 L248.4,303.1 L249.1,305.9 L251.9,307.9 L254.7,310.7 L257.4,313.4 L259.5,316.2 L258.8,319.7 L259.5,323.1 L260.9,326.6 L261.1,328.6 L261.6,330.7 L261.1,334.1 L258.8,336.9 L257.6,338.5 L256.7,340.3 L255.5,341.9 L254.7,343.8 L251.9,345.2 L248.4,344.5 L246.3,344.0 L244.3,343.1 L242.3,342.0 L240.2,341.0 L238.1,339.9 L236.0,339.0 L234.0,337.9 L231.9,336.9 L229.9,335.9 L227.8,335.5 L225.0,334.4 M300.6,333.0 L304.7,331.8 M317.4,323.4 L321.3,325.6 M225.9,333.9 L222.4,332.0 L220.3,331.5 L218.3,331.1 L216.2,331.5 L214.1,332.0 L211.4,333.9 L210.0,335.0 L209.1,337.0 L208.6,339.1 L207.7,341.1 L207.2,343.3 L206.7,345.7 L206.6,348.1 L205.6,350.2 L204.5,352.2 L202.9,353.8 L201.7,355.7 L199.0,358.4 L196.2,360.5 L193.7,363.3 L194.8,364.7 L197.6,364.0 L195.5,366.0 L194.1,368.1 L196.9,368.8 L194.8,371.6 L193.8,373.3 L192.8,375.0 L191.8,376.8 L190.7,378.4 L190.7,379.8 L194.1,381.2 L197.6,382.6 L201.0,384.0 L203.8,386.0 L205.6,388.8 L206.1,392.2 L207.0,395.0 L209.3,396.4 L212.8,395.0 L214.8,394.5 L216.9,394.3 L219.0,394.2 L221.0,394.0 L223.1,394.3 L225.2,395.0 L227.3,395.6 L229.3,396.4 L232.8,397.1 L236.2,395.7 L238.0,394.7 L239.7,393.6 L243.1,392.2 L245.9,390.2 L248.6,388.1 L251.4,386.7 L252.8,384.0 L252.1,381.2 L252.8,378.4 L254.8,375.7 L257.6,373.6 L260.3,371.6 L263.1,369.5 L266.6,368.4 L270.0,368.1 M260.0,370.2 L262.1,369.5 L264.1,368.8 L266.2,368.6 L268.3,368.1 L270.7,367.2 L273.1,366.0 L274.9,365.2 L276.6,364.0 L277.9,360.5 L278.6,357.1 L280.7,354.3 L282.4,353.2 L284.1,352.2 L286.9,352.9 L289.7,355.0 L291.3,356.2 L293.1,357.1 L296.6,358.4 L300.0,357.8 L301.7,356.8 L303.4,355.7 L305.2,354.8 L306.9,353.6 L309.7,351.6 L313.1,350.2 L315.9,350.9 L318.6,352.9 L320.7,355.7 L321.8,359.1 L322.8,362.6 L325.5,364.7 L328.3,367.4 L329.9,369.2 L331.7,370.9 L333.3,373.1 L335.2,375.0 L337.0,376.3 L338.6,377.8 L340.4,379.1 L342.1,380.5 L343.7,381.6 L345.5,382.6 L348.3,384.7 M314.5,361.9 L316.3,361.2 L316.6,364.0 L316.8,367.4 L315.9,371.6 L314.5,374.3 L312.4,374.3 L311.0,371.6 L310.8,368.1 L311.7,365.1 L313.1,363.3Z M307.6,377.1 L310.3,376.4 L313.1,375.7 L315.2,377.1 L316.3,380.5 L315.9,384.7 L315.2,388.8 L314.5,392.9 L311.7,394.0 L309.7,395.7 L306.9,394.3 L306.2,390.9 L306.9,386.7 L306.6,382.6 L306.2,379.1Z M269.0,382.6 L272.4,380.5 L275.2,381.9 L274.5,384.7 L271.7,386.0 L269.7,384.7Z M278.6,381.2 L281.4,381.9 L280.7,383.3Z M260.0,386.0 L262.1,385.8 L261.7,388.1 L260.3,387.8Z M320.0,363.7 L321.8,364.0 M347.9,348.1 L346.6,346.0 L343.8,346.7 L341.7,346.0 L343.1,343.3 L341.7,341.2 L339.7,341.3 L337.6,341.2 L335.7,342.0 L334.1,343.3 L333.4,346.7 L333.6,348.8 L334.1,350.9 L335.4,352.7 L336.9,354.3 L338.2,356.1 L339.7,357.8 L340.5,359.9 L341.7,361.9 L342.7,363.9 L343.1,366.0 L344.4,367.8 L345.9,369.5 L347.7,370.4 L349.3,371.6 L351.4,372.0 L353.4,372.2 L356.2,372.9 L354.8,375.0 L357.6,377.1 L359.3,378.1 L361.0,379.1 L362.7,380.2 L364.5,381.2 L366.2,382.3 L367.9,383.3 L370.7,385.3 L371.4,388.1 L369.3,388.8 L366.6,386.7 L363.8,384.7 L361.0,384.7 L359.7,387.4 L360.3,390.9 L361.3,392.6 L362.4,394.3 L363.1,397.8 L361.7,400.5 L359.7,403.0 M346.6,346.0 L347.2,347.6 L349.1,348.3 L349.3,350.2 L350.0,351.9 L350.6,353.7 L352.1,355.0 L353.0,356.7 L354.8,357.3 L356.2,358.4 L357.4,359.8 L359.1,360.5 L360.3,361.9 L361.7,362.6 L363.5,362.6 L364.5,364.0 L365.7,365.0 L367.2,365.5 L368.6,366.0 L370.2,366.3 L371.5,367.2 L372.8,368.1 L374.2,369.5 L376.2,370.2 L376.7,371.9 L376.9,373.6 L376.0,375.7 L376.9,377.8 L376.3,380.0 L377.6,381.9 L377.6,383.9 L379.0,385.3 L380.7,386.6 L381.0,388.8 L383.1,390.0 L383.8,392.2 L385.5,393.3 L386.6,395.0 L387.9,397.1 L387.2,399.8 L387.2,401.5 L386.6,403.0 M376.6,375.0 L377.0,377.1 L377.2,379.1 L377.4,381.4 L378.6,383.3 L380.0,384.3 L380.3,385.9 L380.7,387.4 L381.1,389.2 L382.8,390.2 L384.0,391.7 L385.5,392.9 L387.3,393.9 L388.3,395.7 L387.8,397.2 L386.9,398.4 L385.7,399.6 L385.5,401.2 L387.6,403.3 L388.9,402.5 L390.3,401.9 L391.3,400.3 L393.1,399.8 L395.0,400.1 L396.6,399.1 L398.7,398.9 L400.7,399.8 L402.0,400.7 L403.4,401.2 L404.7,402.4 L406.2,403.3 L405.6,404.7 L404.8,406.0 L402.8,407.4 L403.2,409.2 L404.8,410.2 L405.3,412.0 L404.5,413.8 L404.6,415.7 L402.1,414.3 L400.8,413.2 L400.7,411.6 L399.3,413.6 L398.9,411.5 L397.2,410.2 L395.2,411.6 L393.7,410.1 L393.1,408.1 L392.1,406.4 L391.0,404.7 L389.5,403.5 L387.6,403.3 M409.7,421.9 L413.1,420.8 L415.2,421.1 L417.2,421.2 L419.3,420.6 L421.4,420.5 L423.5,420.5 L425.5,420.8 L429.4,421.2 L429.7,423.0 L426.2,423.6 L422.8,424.7 L419.3,424.9 L417.2,424.6 L415.2,424.0 L413.1,423.8 L411.0,424.0Z M430.3,335.5 L428.3,337.6 L427.4,339.6 L426.9,341.7 L426.4,344.2 L425.8,346.6 L425.5,349.3 L425.2,352.1 L424.8,354.8 L424.7,357.6 L425.3,360.0 L425.5,362.4 L426.5,364.1 L427.6,365.9 L429.3,367.1 L431.0,368.3 L433.4,369.3 L435.9,369.7 L438.2,369.0 L440.7,368.9 L442.8,367.2 L444.2,365.2 L445.9,363.5 L447.6,361.7 L449.5,360.5 L451.4,359.1 L453.1,357.6 L454.8,356.5 L456.9,356.0 L458.6,354.8 L460.7,353.8 L462.8,352.8 L465.6,352.3 L468.3,351.4 L471.1,351.3 L473.8,350.7 L475.9,350.4 L477.9,350.7 L479.9,351.5 L482.1,351.8 L484.8,351.6 L487.6,351.4 L490.3,350.5 L493.1,350.0 L495.9,348.9 L498.6,347.9 L500.5,346.3 L502.8,345.2 L504.6,343.9 L506.2,342.4 L507.6,339.0 L507.3,336.9 L506.9,334.8 L505.7,333.2 L504.8,331.4 L503.0,330.5 L501.4,329.3 L498.6,328.6 L495.9,327.9 L493.1,327.1 L490.3,326.6 L487.6,326.0 L484.8,325.2 L482.0,325.1 L479.3,324.5 L477.2,324.2 L475.2,323.8 L471.7,323.1 M430.3,335.5 L430.7,333.6 L431.2,331.8 L431.7,330.0 L432.4,328.4 L433.0,326.7 L433.8,325.2 L434.8,323.8 L435.9,322.4 L437.5,321.6 L439.3,321.0 L441.2,321.3 L442.8,322.4 L445.5,323.1 L447.2,322.7 L449.0,322.4 L450.5,321.3 L452.4,321.0 M452.4,321.0 L451.1,322.8 L449.7,324.5 L447.3,327.2 L449.7,329.3 L453.1,330.0 L453.8,332.8 L455.9,334.4 L458.6,332.8 L460.7,330.0 L462.8,327.2 L465.5,325.2 L468.3,323.8 L471.7,323.1 L469.7,321.4 L466.2,322.4 L462.8,323.1 L460.0,322.4 L457.2,321.0 L454.5,320.3Z M453.8,319.7 L455.4,318.1 L457.2,316.9 L459.0,315.2 L460.7,313.4 L462.6,311.9 L464.1,310.0 L465.8,308.2 L467.6,306.6 L469.7,305.2 L471.7,303.8 L475.2,302.4 L476.6,303.8 L475.6,305.6 L474.5,307.2 L471.7,309.3 L473.1,311.4 L475.2,312.8 L473.8,315.5 L473.1,319.0 L472.3,320.8 L471.7,322.8 M452.0,319.7 L453.5,319.5 L454.8,320.3 L456.1,320.6 L457.4,321.2 L458.7,321.5 L460.0,322.0 M437.9,316.2 L438.8,317.4 L440.2,318.1 L440.7,319.7 L439.7,320.9 L439.3,322.4 M440.7,319.7 L442.1,320.5 L443.7,320.6 M448.3,316.2 L449.0,312.1 L451.0,308.6 L454.5,306.6 L455.2,307.9 L452.4,310.0 L450.3,312.8 L449.7,316.2Z M433.8,298.6 L437.2,298.3 L440.7,299.9 L440.0,301.0 L436.6,299.9Z M422.8,338.3 L424.1,337.4 L425.5,337.8 L426.8,337.1 L428.3,337.6 L430.0,337.5 L431.5,336.7 L433.1,336.2 M495.2,216.3 L494.2,217.3 L493.1,218.2 L492.5,219.6 L491.5,220.7 L490.1,221.8 L488.8,222.9 L487.9,224.4 L488.3,225.8 L488.6,227.2 L489.0,228.6 L489.7,229.9 L490.7,231.4 L492.5,232.0 L493.4,233.5 L494.4,234.7 L494.4,236.4 L495.5,237.5 L496.5,236.7 L497.0,235.3 L498.0,234.5 M471.7,411.7 L473.8,409.0 L476.6,407.6 L479.3,406.9 L481.4,404.8 L484.1,402.8 L484.8,403.4 L482.8,406.2 L481.4,409.0 L479.3,411.0 L477.2,413.1 L474.5,414.5 L472.4,413.8Z M466.2,377.2 L468.3,376.6 L469.9,378.6 L469.7,380.7 L467.2,381.0 L465.8,379.3Z M224.0,408.0 L221.9,407.5 L220.1,406.5 L218.0,406.0 L215.4,405.1 L213.0,404.0 L211.6,401.9 L210.0,400.0 L209.1,397.9 L208.0,396.0 L206.4,397.4 L205.0,399.0 L203.4,400.4 L201.7,401.7 L200.0,403.0 L197.9,404.4 L196.0,406.0 L193.9,407.4 L192.0,409.0 L190.0,409.3 L188.0,409.7 L186.0,410.0 L184.0,410.2 L182.0,410.3 L180.0,410.4 L178.0,411.2 L176.0,412.2 L174.0,413.0 L172.0,414.5 L170.0,416.0 L168.0,418.0 L166.0,420.0 L164.5,422.0 L163.0,424.0 L162.2,426.1 L161.0,428.0 L160.6,430.5 L160.0,433.0 L158.0,433.9 L156.0,435.0 L153.5,436.0 L151.0,437.0 L148.4,437.9 L146.0,439.0 L144.0,439.6 L142.0,440.0 L140.0,440.4 L138.0,440.6 L136.0,440.7 L134.0,441.0 L131.5,440.6 L129.0,440.0 L126.0,439.0 L123.0,441.0 L120.9,442.4 L119.0,444.0 L116.5,445.5 L114.0,447.0 L112.0,447.6 L110.0,448.0 L107.9,448.9 L106.0,450.0 L104.1,451.6 L102.0,453.0 L100.4,454.4 L99.0,456.0 L97.6,457.6 L96.0,459.0 L94.0,459.6 L92.0,460.0 L90.0,460.6 L88.0,461.0 L86.0,462.0 L84.0,463.0 M224.0,408.0 L225.0,410.0 L227.0,410.7 L229.0,411.1 L231.0,411.6 L233.0,411.2 L235.0,410.8 L237.0,410.4 L239.0,410.0 L241.0,409.6 L243.0,408.9 L245.0,408.4 L247.0,407.9 L249.0,407.7 L251.0,407.2 L253.0,407.0 L255.0,407.1 L257.0,407.2 L259.0,406.9 L261.0,407.0 L263.0,407.1 L265.0,406.9 L267.0,407.2 L269.0,407.0 L271.0,407.3 L273.0,407.5 L275.0,407.6 L277.0,408.0 L279.0,408.5 L280.9,409.5 L283.0,410.0 L285.0,409.5 L287.0,409.4 L289.0,409.0 L291.0,409.5 L293.0,409.9 L295.0,410.4 L297.0,410.7 L299.0,410.7 L301.0,411.0 L303.0,410.7 L305.0,410.2 L307.0,410.0 L309.0,409.8 L311.0,409.8 L313.0,409.6 L315.0,410.2 L317.0,411.0 L319.1,411.9 L321.0,413.0 L322.0,416.0 L319.0,418.0 L318.0,421.0 L319.5,422.5 L321.0,424.0 L320.4,426.0 L320.0,428.0 L318.6,429.6 L317.0,431.0 L315.5,432.5 L314.0,434.0 L313.5,436.0 L313.0,438.0 L314.6,439.4 L316.0,441.0 L319.0,442.0 L321.0,443.5 L323.0,445.0 L325.1,445.8 L327.0,447.0 L329.0,447.5 L331.0,448.0 L333.0,448.4 L335.0,448.8 L337.0,449.1 L339.0,449.6 L341.0,450.5 L343.0,451.1 L345.0,452.0 L347.5,453.0 L350.0,454.0 L351.0,456.0 L352.0,458.0 L353.6,459.9 L355.0,462.0 L356.9,462.8 L359.0,463.2 L361.0,464.0 L363.0,464.6 L365.0,465.1 L367.0,465.6 L370.0,466.0 M370.0,466.0 L372.6,467.3 L375.0,469.0 L377.5,470.3 L380.0,471.6 L382.0,471.1 L384.0,471.0 L385.5,469.0 L387.0,467.0 L388.2,464.6 L389.0,462.0 L388.6,459.5 L388.4,457.0 L389.4,454.6 L390.0,452.0 L392.0,450.0 L394.0,448.0 L396.0,447.5 L397.9,446.5 L400.0,446.0 L402.0,446.2 L404.0,446.3 L406.0,446.4 L408.0,447.4 L410.0,448.4 L413.0,450.4 L415.3,450.6 L417.7,451.0 L420.0,451.0 L422.0,451.7 L424.0,452.4 L426.0,453.0 L428.0,454.4 L430.0,454.2 L432.0,453.9 L434.0,453.6 L436.0,453.6 L438.0,453.3 L440.0,453.2 L442.0,453.0 L444.0,453.0 L446.0,453.2 L448.0,453.2 L450.0,453.4 L452.0,453.6 L454.0,453.7 L456.0,454.0 L458.0,454.0 L460.0,453.0 L462.0,452.0 L464.0,449.0 L466.0,446.0 L468.0,445.0 L470.0,444.0 L472.0,443.9 L474.0,443.6 L476.0,443.6 L479.0,444.4 L481.0,444.9 L483.0,445.0 L485.6,444.1 L488.0,443.0 L490.5,441.5 L493.0,440.0 L494.4,437.9 L496.0,436.0 L496.3,434.0 L496.7,432.0 L497.0,430.0 L496.7,428.0 L496.4,426.0 M329.1,414.7 L329.1,415.4 L328.5,414.9 L328.9,414.8Z M345.4,422.5 L345.3,421.9 L345.4,421.6 L345.0,422.0Z M321.6,432.1 L321.9,431.9 L321.6,432.2 L321.6,431.5Z M318.4,440.8 L318.1,441.2 L318.3,441.4 L317.7,440.9Z M95.6,413.6 L96.6,412.3 L96.5,413.3 L96.3,412.3Z M90.5,419.8 L90.4,420.1 L90.4,420.3 L89.8,420.2Z M98.7,421.5 L98.6,420.4 L98.2,421.5 L97.7,420.4Z M109.3,428.1 L109.7,427.7 L108.4,428.1 L109.5,428.2Z M101.0,421.0 L105.0,420.4 L104.0,423.6Z M118.0,432.4 L122.0,431.0 L125.0,429.6 L123.0,432.4Z M127.0,428.0 L129.6,427.0 M121.7,385.7 L121.7,386.0 L122.0,385.4 L122.6,386.0Z M89.0,297.1 L89.4,296.7 L88.7,297.3 L89.0,296.8Z M90.9,298.3 L90.5,298.7 L91.6,298.8 L91.2,298.3Z M94.9,300.5 L95.3,300.7 L94.7,301.7 L94.8,301.7Z M99.2,314.4 L99.2,313.6 L99.3,313.7 L98.9,313.5Z M99.4,315.3 L99.3,315.3 L100.5,316.2 L99.9,315.0Z M96.8,320.8 L96.6,321.6 L97.2,320.7 L97.0,321.3Z M485.0,455.0 L488.0,460.0 L492.0,464.0 L496.0,467.0 L500.0,470.0 L504.0,474.0 L507.0,478.0 L508.0,480.0 M506.0,453.0 L506.6,460.0 L507.0,466.0 L508.0,470.0 L511.0,467.0 L515.0,465.0 M504.0,453.0 L505.0,456.0 L506.0,462.0 L507.0,466.0 L512.0,465.0 L518.0,469.0 L524.0,474.0 L530.0,478.0 L533.0,480.0 M500.0,467.0 L503.0,471.0 L506.0,477.0 L508.0,480.0 M502.0,432.0 L503.0,435.0 L504.0,437.0 M500.3,421.7 L500.4,421.8 L500.0,422.3 L499.9,422.0Z M584.0,399.6 L591.0,398.4 M597.0,403.0 L598.5,402.0 L600.0,401.0 L599.3,399.0 L599.0,397.0 L600.7,395.7 L602.0,394.0 L604.0,394.5 L606.0,395.0 L607.3,393.5 L609.0,392.4 L610.5,392.4 L612.0,392.0 M598.0,404.0 L600.0,408.0 L606.0,411.0 L612.0,414.4 M545.6,389.0 L549.0,390.4 L548.0,391.6 L545.2,390.4Z M550.0,394.0 L553.0,395.0 L552.4,396.4 L550.0,395.6Z M553.6,397.0 L557.6,398.0 L557.0,399.6 L554.0,399.0Z M530.4,336.0 L534.0,334.4 L536.0,337.0 L533.0,338.0Z M523.0,356.0 L528.0,351.6 L530.0,355.0 L527.0,358.0 L523.6,358.0Z M540.0,352.0 L543.0,351.0 L547.0,354.0 L548.0,358.0 L545.0,359.0 L542.0,356.0Z M540.0,266.0 L538.0,267.0 L536.0,268.0 L534.0,269.4 L532.0,271.0 L530.5,273.0 L529.0,275.0 L528.3,276.9 L528.0,279.0 L527.2,281.1 L526.0,283.0 L525.3,284.9 L525.0,287.0 L523.9,289.0 L523.0,291.0 L522.4,293.5 L522.0,296.0 L522.4,298.5 L523.0,301.0 L525.1,302.4 L527.0,304.0 L530.0,303.0 L533.0,305.0 L534.9,306.6 L537.0,308.0 L539.5,309.6 L542.0,311.0 L544.1,311.8 L545.9,313.2 L548.0,314.0 L550.5,315.0 L553.0,316.0 L555.5,317.1 L558.0,318.0 L558.7,320.5 L559.0,323.0 L559.4,325.5 L560.0,328.0 M560.0,328.0 L560.4,330.0 L560.8,332.0 L561.0,334.0 L562.4,336.1 L564.0,338.0 L566.5,339.2 L569.0,340.4 L571.3,340.4 L573.7,340.4 L576.0,340.4 L578.0,340.2 L580.0,340.2 L582.0,340.0 L584.1,339.5 L585.9,338.5 L588.0,338.0 L590.0,336.0 L592.0,334.0 L593.4,331.9 L595.0,330.0 L596.0,328.0 M540.0,266.0 L541.7,267.3 L543.0,269.0 L544.0,271.0 L545.0,273.0 L546.0,276.0 L549.0,275.4 L548.1,277.3 L547.0,279.0 L544.0,280.0 L542.0,283.0 L541.5,285.0 L541.0,287.0 L543.0,289.0 L545.0,289.4 L547.0,290.0 L550.0,292.0 L551.9,293.2 L554.0,294.0 L556.5,294.3 L559.0,294.6 L560.9,295.9 L563.0,297.0 L565.0,300.0 L567.0,297.0 L569.0,294.0 L571.0,294.3 L573.0,294.0 L575.0,295.0 L577.0,296.0 L579.0,299.0 L577.0,302.0 L575.0,302.5 L573.0,303.0 L570.0,304.0 L571.0,307.0 L573.1,307.8 L575.0,309.0 L576.9,310.2 L579.0,311.0 L582.0,313.0 L580.0,315.0 L582.0,318.0 L583.9,317.2 L586.0,317.0 L587.6,318.4 L589.0,320.0 L590.6,321.4 L592.0,323.0 L593.4,324.6 L595.0,326.0 L596.0,328.0 M565.0,300.0 L568.0,302.0 L570.0,304.0 M583.0,279.0 L586.0,277.4 L589.0,279.4 L588.0,282.6 L585.0,283.0 L583.0,281.4Z M568.0,135.6 L570.0,134.4 L571.6,137.0 L570.0,139.6 L568.4,138.4Z M586.2,134.5 L587.8,133.8 L587.8,133.9 L587.2,134.8Z M548.5,151.2 L548.4,151.2 L548.9,151.3 L548.3,151.7Z M540.8,169.7 L540.1,169.3 L541.7,169.4 L540.4,168.4Z M570.8,158.1 L571.8,159.5 L571.6,159.3 L571.9,158.8Z M551.6,191.0 L552.6,195.0 M577.0,185.0 L579.0,184.0 L579.6,187.0 L578.0,189.6 L576.6,188.0Z M368.3,201.0 L369.0,193.7 L371.0,188.9 L375.2,187.5 L379.3,188.9 L380.0,192.3 L378.6,196.4 L377.2,201.0 M380.7,161.3 L382.1,164.0 M356.3,176.9 L358.6,178.5 M355.9,187.5 L359.3,190.2 M386.9,182.0 L389.4,182.9 M385.5,195.8 L389.7,197.1 M396.3,175.5 L396.7,175.9 L397.6,176.3 L396.8,175.2 L397.7,175.8 M395.1,171.0 L396.4,171.9 L395.3,172.6 L396.3,172.0 M397.3,173.5 L398.0,172.9 L398.9,172.8 L399.6,173.0 L399.4,172.7 M397.1,172.5 L396.8,172.8 L397.1,172.1 L397.0,172.4 M399.9,173.5 L400.0,173.0 L399.2,172.6 L398.9,172.0 L398.3,173.0 L398.5,173.1 L398.7,174.1 M398.5,171.0 L398.9,172.2 L398.6,172.8 L399.7,171.6 L398.8,172.4 L399.7,172.7 L398.8,172.5 M397.7,380.4 L398.9,379.1 L400.4,378.2 L402.1,377.4 L403.7,376.6 L405.7,375.9 L407.6,374.9 L409.8,375.1 L412.0,374.3 L414.2,374.5 L416.4,374.9 L417.8,375.8 L419.2,376.6 L421.4,377.1 L422.7,376.2 L424.1,375.4 L425.8,374.4 L427.4,373.2 L429.3,372.7 L430.8,371.6 L432.3,371.7 L433.8,371.3 L435.2,370.5 L436.8,370.3 L438.0,369.0 L439.6,368.8 L440.8,367.5 L442.3,366.6 M423.6,379.3 L425.5,378.4 L427.4,377.4 L428.9,376.7 L430.4,376.2 L431.9,375.4 L433.7,374.2 L435.7,373.2 L437.8,372.4 L439.6,371.0 L440.4,369.4 L441.8,368.3 M402.1,383.7 L402.6,382.3 L404.1,382.2 L405.2,381.5 L406.5,381.0 L407.8,380.4 M403.7,384.5 L404.6,383.9 L406.0,383.8 L406.5,382.6 M420.8,378.2 L420.3,380.1 L420.3,382.1 L420.4,383.9 L421.4,385.4 L423.6,386.5 L425.2,388.7 L425.2,390.5 L424.1,392.0 L426.3,393.1 L427.9,393.8 L428.6,395.3 L430.2,397.5 L430.5,399.2 L431.9,400.3 L433.1,401.2 L434.1,402.5 L435.9,403.0 L437.4,404.1 L438.8,404.7 L440.1,405.2 M420.8,378.6 L421.7,378.9 M420.3,382.0 L419.6,381.9 M420.7,383.2 L421.4,382.6 M421.2,384.7 L420.1,384.6 M422.9,386.1 L422.7,386.7 M424.3,387.5 L425.2,386.6 M425.1,389.1 L425.9,389.5 M424.6,390.6 L425.4,390.9 M426.2,393.0 L426.1,391.9 M427.4,394.1 L428.2,393.9 M428.7,395.5 L429.3,395.2 M430.7,398.3 L431.3,398.1 M431.6,399.8 L432.4,398.8 M432.2,400.6 L433.1,400.3 M434.5,402.7 L434.6,402.0 M437.2,404.0 L437.8,403.5 M437.7,404.3 L437.1,405.3 M440.1,405.2 L444.0,405.8 L446.2,406.2 L448.4,406.3 L451.7,404.1 L453.2,402.5 L455.0,401.4 L457.6,400.5 L460.0,399.2 M460.0,399.3 L462.0,400.2 L464.1,400.7 L466.3,401.2 L468.3,402.1 L470.3,401.8 L472.4,401.4 L474.1,400.3 L475.9,399.3 L477.9,396.6 L480.0,393.8 L482.8,392.4 L484.8,392.6 L486.9,392.4 L488.2,390.7 L489.7,389.0 L491.0,388.3 L492.0,389.7 L492.4,393.1 L493.1,395.2 L493.8,397.2 L494.7,399.3 L495.6,401.4 L496.1,403.4 L496.6,405.5 L496.6,407.6 L497.0,409.7 L496.4,412.4 L496.1,415.2 L495.8,417.9 L495.6,420.7 L496.1,423.4 L496.1,426.2 M397.7,380.4 L398.4,382.0 L398.2,383.7 L399.4,384.9 L399.9,386.5 L400.6,388.1 L402.1,389.2 L401.5,390.6 L401.0,392.0 L402.4,392.3 L403.7,393.1 L405.2,394.1 L406.5,395.3 L408.1,396.5 L409.8,397.5 L411.6,398.4 L413.1,399.7 L414.6,401.0 L416.4,401.9 L417.8,402.7 L418.6,404.1 L420.3,406.3 M397.8,381.1 L398.5,380.8 M398.1,382.9 L397.0,383.4 M398.3,383.9 L399.4,382.9 M399.5,385.9 L398.8,386.6 M400.0,386.7 L399.6,387.3 M401.3,388.3 L401.9,387.9 M401.8,389.8 L402.7,389.7 M403.7,393.1 L403.6,394.2 M403.8,393.1 L403.2,393.9 M405.8,394.7 L406.2,394.3 M406.7,395.5 L406.4,396.4 M409.2,397.1 L409.9,396.0 M409.9,397.6 L410.0,396.7 M412.1,399.0 L411.9,399.6 M414.0,400.4 L413.1,401.0 M415.3,401.2 L414.7,401.9 M416.5,402.0 L416.1,402.8 M418.5,404.1 L419.9,403.6 M420.2,406.3 L419.2,406.5 M421.9,387.2 L423.2,386.5 L423.0,386.5 L422.4,387.6Z M423.0,387.8 L422.7,388.1 L423.2,386.9 L422.8,387.5Z M424.0,393.7 L424.3,393.1 L423.5,393.1 L424.1,394.0Z M424.8,393.5 L424.7,393.7 L423.8,393.6 L423.9,394.6Z M427.2,398.2 L427.8,398.5 L427.5,398.1 L427.3,398.4Z M414.2,383.3 L414.8,382.3 L414.9,383.2 L414.3,383.2Z M411.7,392.0 L412.2,391.6 L412.4,392.4 L411.8,391.7Z M410.2,377.4 L409.4,377.7 L409.2,377.1 L409.5,377.8Z M416.9,377.6 L417.0,378.1 L416.0,378.3 L416.7,378.5Z M417.4,380.9 L417.5,380.0 L417.8,381.0 L418.5,380.4Z M425.7,408.2 L426.0,408.4 L426.8,407.9 L426.7,409.0Z M428.6,405.7 L429.7,407.0 L429.6,406.7 L428.9,405.8Z M432.5,405.7 L433.6,404.6 L433.4,404.9 L432.6,405.4Z M435.8,406.5 L435.7,405.7 L434.5,406.1 L435.0,406.2Z M438.4,410.8 L438.2,409.6 L438.2,410.9 L439.0,409.6Z M438.9,411.2 L438.6,410.9 L439.1,411.7 L439.2,411.8Z M414.2,409.8 L414.1,410.3 L414.5,410.7 L414.8,410.0Z M418.8,407.4 L418.9,407.4 L418.5,406.8 L418.9,407.2Z M423.0,407.9 L423.3,406.8 L422.6,407.0 L422.5,408.1Z M381.3,389.0 L380.7,388.7 L380.7,388.7 L380.6,389.2Z M381.6,390.0 L381.1,389.9 L382.0,389.8 L381.9,390.1Z M387.1,395.5 L386.3,394.8 L386.3,395.5 L387.0,394.9Z M385.6,400.2 L386.3,400.9 L386.4,401.1 L386.0,400.9Z M388.4,404.4 L388.5,403.8 L387.9,403.7 L388.5,403.6Z M346.4,382.4 L349.2,384.3 L350.8,386.5 L353.0,388.2 L354.7,390.9 L355.8,393.7 L356.9,396.4 L356.3,399.2 L355.2,401.4 L353.6,403.1 L355.2,404.7 L357.4,403.6 L359.1,401.4 L360.8,399.2 M332.6,404.7 L334.8,403.4 L337.6,403.1 L340.3,403.8 L343.1,404.2 L346.4,403.8 L349.7,403.1 L352.5,403.1 L351.9,405.3 L350.8,408.0 L349.9,410.8 L350.6,413.0 L349.5,415.2 L348.1,414.1 L345.9,413.0 L343.1,411.9 L340.3,410.2 L337.6,408.6 L334.8,407.5 L332.6,406.4Z M328.7,414.7 L328.8,414.7 L329.1,415.1 L328.9,415.0Z M363.0,365.0 L364.7,366.0 L366.6,366.5 L368.5,367.2 L370.3,368.0 L372.2,368.6 L374.0,369.4 L376.2,370.0 L376.8,371.9 L376.8,373.8 L376.6,376.0 L376.2,378.2 L376.7,380.4 L376.8,382.7 L377.9,384.2 L378.4,386.0 L379.7,387.2 L380.6,388.7 L382.0,389.9 L382.8,391.5 L384.5,392.9 L386.1,394.2 L388.3,395.9 L390.0,397.0 M387.9,398.5 L387.4,399.1 L386.9,399.2 L388.6,399.1Z M389.2,402.2 L387.7,400.5 L388.5,402.2 L388.5,401.9Z M389.5,402.8 L389.2,403.9 L388.6,403.0 L389.5,403.3Z M570.4,241.4 L571.9,240.5 L573.0,239.0 L574.5,239.8 L576.0,240.6 L575.7,242.1 L576.7,243.3 L577.2,244.6 L575.9,245.4 L576.0,247.2 L574.8,248.0 L573.2,248.5 L571.6,249.0 L570.4,247.7 L570.0,246.0 L569.5,244.4 L569.7,242.9Z M570.4,249.0 L570.3,250.3 L569.3,251.4 L569.6,252.8 L569.2,254.0 L570.0,255.1 L569.7,256.6 L570.3,257.9 L571.0,259.0 L572.0,259.9 L573.6,259.8 L574.4,261.0 L575.6,259.9 L577.0,259.0 L576.2,257.8 L575.5,256.5 L575.2,255.0 L575.7,253.9 L576.3,252.9 L577.2,252.0 L578.6,251.5 L580.0,251.0 L581.4,251.8 L581.8,253.5 L582.8,254.6 L582.7,255.9 L583.6,256.9 L584.0,258.0 L582.0,257.4 L581.0,256.6 L580.6,255.4 L579.6,254.6 L578.7,255.5 L577.6,256.0 L577.5,257.8 L578.4,259.4 L576.9,260.0 L576.0,261.4 M571.5,246.1 L572.7,247.1 L571.4,245.7 L572.2,244.3 L572.9,243.6 L571.5,244.0 M572.9,241.3 L572.1,240.7 L571.4,240.5 L570.5,241.5 L569.7,241.7 L568.5,242.4 M571.0,241.0 L572.2,241.3 L572.9,241.2 L574.3,240.4 L572.9,240.7 L572.9,239.8 M570.9,244.7 L569.5,245.2 L568.1,246.3 L568.0,246.5 L568.1,245.1 M574.1,244.4 L574.8,245.5 L573.5,245.6 L574.5,244.3 L575.0,244.4 L575.1,244.5 L574.9,245.3 M572.7,244.8 L573.0,244.2 L574.1,245.6 L573.4,244.7 L572.8,244.7 L572.8,246.1 M361.8,332.9 L364.6,331.6 L366.9,330.4"/>
<path class="coast" style="stroke-width:1.9" d="M399.5,157.6 L397.6,159.1 M394.6,157.4 L393.0,156.4 M393.5,155.5 L392.2,154.4 M390.5,156.7 L389.7,155.1 M387.6,153.3 L385.4,153.8 M386.0,151.4 L384.3,151.8 M384.6,151.8 L382.3,152.1 M376.7,150.3 L375.7,150.7 M371.4,154.3 L369.6,153.7 M369.6,153.7 L369.5,155.6 M364.9,154.8 L363.7,155.9 M363.7,156.8 L362.6,157.4 M358.2,160.8 L357.7,161.9 M352.1,165.2 L350.9,165.8 M351.4,167.4 L349.7,168.3 M348.5,170.6 L348.4,172.5 M348.5,176.7 L347.7,177.4 M348.6,177.7 L348.8,179.4 M347.3,180.8 L348.3,182.8 M345.5,183.0 L345.6,185.1 M345.8,184.6 L345.1,187.0 M343.1,187.9 L343.4,190.0 M340.9,190.8 L339.6,191.0 M339.6,196.2 L339.1,197.4 M335.9,200.7 L335.1,201.6 M335.7,201.9 L335.2,199.9 M337.6,198.0 L339.2,197.8 M339.2,196.8 L340.7,194.9 M339.5,195.2 L340.5,194.4 M340.3,194.2 L340.1,195.2 M338.8,195.2 L337.9,196.1 M336.9,201.2 L334.4,201.9 M330.1,204.4 L328.9,204.1 M319.7,212.3 L318.4,211.8 M313.8,218.3 L313.8,219.9 M313.7,225.7 L312.8,226.4 M315.0,237.1 L316.7,238.9 M319.0,242.9 L320.7,243.6 M492.9,218.6 L491.8,220.9 M491.8,221.8 L489.3,221.9 M488.5,226.2 L489.0,228.1 M490.2,229.2 L489.5,230.1 M489.2,229.7 L491.3,231.0 M492.2,231.5 L492.2,232.5 M352.6,166.9 L351.7,167.6 M351.7,167.8 L351.1,169.5 M349.5,168.7 L347.9,168.8 M349.1,168.6 L349.2,170.1 M347.3,170.8 L345.5,172.2 M345.5,171.3 L344.5,172.2 M344.1,172.3 L344.1,173.9 M347.8,166.9 L349.1,167.4 M350.0,167.7 L351.5,168.8 M351.9,167.6 L351.2,168.7 M351.7,168.9 L351.6,170.2 M264.6,256.1 L265.9,254.5 M266.0,252.0 L266.4,250.9 M266.6,248.3 L265.5,247.3 M264.6,248.5 L263.7,247.5 M263.3,246.2 L262.7,243.8 M263.2,238.9 L262.8,238.0 M262.2,236.1 L264.4,235.2 M266.4,227.1 L264.5,228.7 M264.4,230.9 L263.2,231.6 M260.9,235.6 L261.4,236.8 M260.6,235.7 L261.0,237.2 M261.0,237.7 L262.4,238.1 M261.0,243.0 L261.2,244.6 M347.5,346.0 L348.2,348.0 M348.4,349.0 L349.0,349.9 M348.7,350.9 L350.3,352.5 M350.1,352.1 L350.7,354.1 M352.5,355.5 L354.3,355.5 M354.6,358.1 L356.0,357.9 M356.7,359.1 L358.6,360.2 M360.1,360.8 L360.9,361.8 M360.6,361.8 L361.8,363.0 M366.6,365.6 L367.9,366.7 M371.1,366.9 L371.6,368.8 M373.3,369.6 L375.1,370.2 M398.3,385.9 L399.6,386.1 M400.4,385.4 L400.3,387.9 M402.0,388.7 L403.2,390.7 M400.7,391.5 L402.5,391.1 M405.1,394.4 L405.7,395.9 M409.0,396.1 L410.1,397.2 M414.3,400.3 L415.7,400.3 M422.6,387.6 L424.9,387.5 M425.1,390.9 L425.1,393.0 M425.1,393.0 L426.8,393.2 M427.3,393.7 L428.5,395.0 M428.5,395.3 L429.0,396.3 M434.9,403.3 L435.1,404.9 M439.5,403.2 L440.7,404.9"/>
</g>
<rect x="84" y="133.5" width="528.9" height="347.3" fill="none" stroke="#241405" stroke-width="1.7"/>
<text class="ax" x="237.2" y="129.6" text-anchor="middle">30°W</text>
<text class="ax" x="311.2" y="129.6" text-anchor="start">0°E</text>
<text class="ax" x="311.2" y="129.6" text-anchor="start">0°W</text>
<text class="ax" x="379.2" y="129.6" text-anchor="middle">30°E</text>
<text class="ax" x="461.3" y="129.6" text-anchor="middle">60°E</text>
<text class="ax" x="226.5" y="488.5" text-anchor="middle">0°W</text>
<text class="ax" x="226.9" y="488.5" text-anchor="middle">0°E</text>
<text class="ax" x="472" y="488.6" text-anchor="middle">30°E</text>
<text class="ax" x="82.5" y="288.8" text-anchor="end">30°W</text>
<text class="ax" x="616" y="287.8" text-anchor="start">60°E</text>
</svg></body></html>
